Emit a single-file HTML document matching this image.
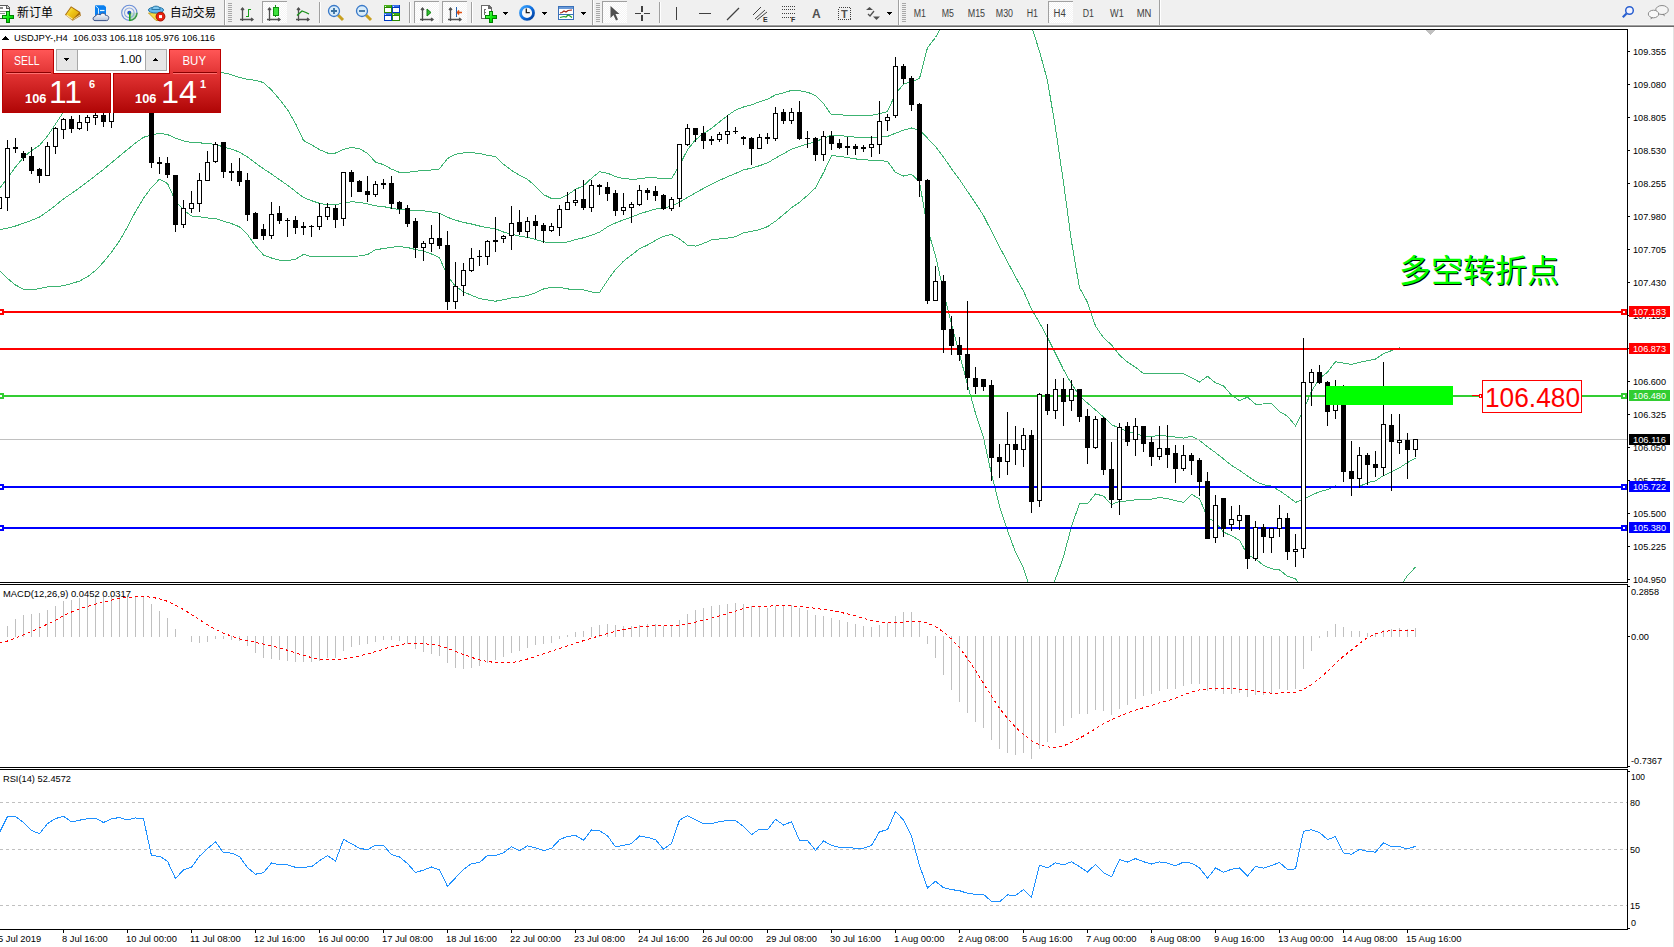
<!DOCTYPE html>
<html><head><meta charset="utf-8"><title>USDJPY-,H4</title>
<style>html,body{margin:0;padding:0;background:#fff;overflow:hidden;width:1674px;height:947px}svg{display:block}</style>
</head><body>
<svg width="1674" height="947" viewBox="0 0 1674 947" shape-rendering="crispEdges" font-family="'Liberation Sans', Arial, sans-serif">
<rect x="0" y="27" width="1674" height="920" fill="#ffffff"/>
<rect x="1673" y="27" width="1" height="920" fill="#e3e3e3"/>
<defs><clipPath id="cm"><rect x="0" y="30" width="1627" height="552"/></clipPath><clipPath id="cd"><rect x="0" y="585" width="1627" height="182"/></clipPath><clipPath id="cr"><rect x="0" y="770" width="1627" height="159"/></clipPath></defs>
<g clip-path="url(#cm)">
<polyline points="-0.5,188.6 7.5,177.8 15.5,167.0 23.5,157.4 31.5,150.6 39.5,145.4 47.5,136.1 55.5,124.1 63.5,112.1 71.5,103.4 79.5,94.8 87.5,87.0 95.5,80.6 103.5,76.9 111.5,73.6 119.5,71.4 127.5,72.3 135.5,74.3 143.5,76.3 151.5,82.5 159.5,87.3 167.5,85.5 175.5,75.7 183.5,71.5 191.5,69.0 199.5,68.8 207.5,69.1 215.5,70.2 223.5,72.8 231.5,74.7 239.5,77.5 247.5,79.4 255.5,80.3 263.5,82.6 271.5,90.0 279.5,99.3 287.5,109.7 295.5,123.5 303.5,140.5 311.5,144.7 319.5,149.7 327.5,153.0 335.5,153.0 343.5,149.4 351.5,147.5 359.5,148.7 367.5,153.3 375.5,162.2 383.5,164.6 391.5,169.1 399.5,172.4 407.5,172.4 415.5,171.3 423.5,170.5 431.5,170.0 439.5,168.9 447.5,158.5 455.5,154.3 463.5,152.9 471.5,152.7 479.5,153.5 487.5,155.4 495.5,156.4 503.5,164.3 511.5,170.3 519.5,175.3 527.5,179.3 535.5,186.3 543.5,194.6 551.5,198.5 559.5,198.7 567.5,195.0 575.5,189.4 583.5,185.7 591.5,178.3 599.5,171.8 607.5,173.2 615.5,176.6 623.5,178.5 631.5,179.3 639.5,178.9 647.5,177.7 655.5,177.8 663.5,179.0 671.5,178.6 679.5,165.4 687.5,149.8 695.5,139.8 703.5,133.5 711.5,128.4 719.5,121.9 727.5,115.6 735.5,110.1 743.5,107.0 751.5,104.9 759.5,101.7 767.5,99.2 775.5,94.9 783.5,92.8 791.5,90.4 799.5,90.8 807.5,92.2 815.5,95.6 823.5,103.6 831.5,114.9 839.5,114.8 847.5,115.3 855.5,115.4 863.5,115.3 871.5,115.3 879.5,113.6 887.5,111.5 895.5,93.8 903.5,84.3 911.5,81.6 919.5,78.5 927.5,47.7 935.5,37.5 943.5,22.8 951.5,13.2 959.5,5.0 967.5,-1.9 975.5,-7.1 983.5,-6.7 991.5,-11.8 999.5,-12.4 1007.5,-7.0 1015.5,1.5 1023.5,14.2 1031.5,26.2 1039.5,51.3 1047.5,80.6 1055.5,128.2 1063.5,182.4 1071.5,241.6 1079.5,287.8 1087.5,302.3 1095.5,326.0 1103.5,337.8 1111.5,344.8 1119.5,355.2 1127.5,362.1 1135.5,367.2 1143.5,373.5 1151.5,373.5 1159.5,373.7 1167.5,373.8 1175.5,373.4 1183.5,373.9 1191.5,377.7 1199.5,382.1 1207.5,376.2 1215.5,382.8 1223.5,385.8 1231.5,395.1 1239.5,400.6 1247.5,397.2 1255.5,404.1 1263.5,404.0 1271.5,403.5 1279.5,411.5 1287.5,416.1 1295.5,425.8 1303.5,409.9 1311.5,391.3 1319.5,378.5 1327.5,372.1 1335.5,361.7 1343.5,363.1 1351.5,364.5 1359.5,362.4 1367.5,360.7 1375.5,359.1 1383.5,353.6 1391.5,350.6 1399.5,347.9 1407.5,349.7 1415.5,349.0" fill="none" stroke="#3cb371" stroke-width="1"/>
<polyline points="-0.5,229.7 7.5,228.1 15.5,226.0 23.5,223.3 31.5,220.3 39.5,217.0 47.5,211.5 55.5,205.4 63.5,198.9 71.5,193.5 79.5,187.9 87.5,181.8 95.5,175.6 103.5,169.5 111.5,162.8 119.5,156.1 127.5,149.5 135.5,143.0 143.5,137.3 151.5,134.9 159.5,133.2 167.5,134.5 175.5,138.3 183.5,140.9 191.5,142.5 199.5,142.8 207.5,143.6 215.5,144.4 223.5,147.0 231.5,149.2 239.5,152.1 247.5,157.0 255.5,163.1 263.5,168.8 271.5,174.0 279.5,179.7 287.5,185.2 295.5,191.4 303.5,197.4 311.5,200.7 319.5,203.3 327.5,204.9 335.5,204.7 343.5,202.9 351.5,201.8 359.5,202.3 367.5,203.9 375.5,205.9 383.5,206.6 391.5,208.2 399.5,209.5 407.5,209.9 415.5,210.4 423.5,210.8 431.5,212.0 439.5,213.2 447.5,217.3 455.5,220.2 463.5,222.4 471.5,224.0 479.5,226.0 487.5,227.7 495.5,228.8 503.5,232.0 511.5,234.1 519.5,236.1 527.5,237.4 535.5,239.5 543.5,241.8 551.5,242.9 559.5,243.0 567.5,241.9 575.5,239.6 583.5,237.8 591.5,235.2 599.5,232.2 607.5,226.8 615.5,223.0 623.5,219.8 631.5,217.2 639.5,213.8 647.5,211.4 655.5,209.1 663.5,207.7 671.5,206.5 679.5,202.2 687.5,197.5 695.5,192.9 703.5,188.4 711.5,184.2 719.5,180.4 727.5,176.8 735.5,173.4 743.5,169.9 751.5,168.1 759.5,165.7 767.5,162.9 775.5,158.1 783.5,153.7 791.5,149.1 799.5,146.5 807.5,143.8 815.5,141.8 823.5,138.2 831.5,135.3 839.5,135.5 847.5,136.4 855.5,137.2 863.5,137.6 871.5,137.8 879.5,137.1 887.5,136.4 895.5,133.2 903.5,130.2 911.5,128.0 919.5,130.1 927.5,138.2 935.5,146.6 943.5,157.1 951.5,168.7 959.5,179.5 967.5,191.4 975.5,203.1 983.5,215.6 991.5,231.2 999.5,246.9 1007.5,261.8 1015.5,276.9 1023.5,291.2 1031.5,309.1 1039.5,322.7 1047.5,337.4 1055.5,353.5 1063.5,369.6 1071.5,383.9 1079.5,395.7 1087.5,403.1 1095.5,409.9 1103.5,416.9 1111.5,424.6 1119.5,428.3 1127.5,431.5 1135.5,433.5 1143.5,436.4 1151.5,436.3 1159.5,435.6 1167.5,436.1 1175.5,437.1 1183.5,438.1 1191.5,436.1 1199.5,440.4 1207.5,446.8 1215.5,452.6 1223.5,458.9 1231.5,465.4 1239.5,470.4 1247.5,475.9 1255.5,481.4 1263.5,484.7 1271.5,486.1 1279.5,490.7 1287.5,496.2 1295.5,502.4 1303.5,499.3 1311.5,495.1 1319.5,491.8 1327.5,489.6 1335.5,486.0 1343.5,486.8 1351.5,487.7 1359.5,486.4 1367.5,482.7 1375.5,480.8 1383.5,475.6 1391.5,471.7 1399.5,467.9 1407.5,462.5 1415.5,458.1" fill="none" stroke="#3cb371" stroke-width="1"/>
<polyline points="-0.5,270.8 7.5,278.4 15.5,285.0 23.5,289.3 31.5,290.0 39.5,288.6 47.5,286.9 55.5,286.7 63.5,285.7 71.5,283.6 79.5,281.1 87.5,276.7 95.5,270.6 103.5,262.1 111.5,252.1 119.5,240.9 127.5,226.8 135.5,211.6 143.5,198.3 151.5,187.3 159.5,179.2 167.5,183.5 175.5,200.9 183.5,210.2 191.5,216.0 199.5,216.8 207.5,218.0 215.5,218.5 223.5,221.1 231.5,223.6 239.5,226.8 247.5,234.5 255.5,245.9 263.5,255.0 271.5,258.0 279.5,260.1 287.5,260.7 295.5,259.2 303.5,254.4 311.5,256.6 319.5,256.9 327.5,256.9 335.5,256.4 343.5,256.4 351.5,256.1 359.5,256.0 367.5,254.6 375.5,249.7 383.5,248.6 391.5,247.2 399.5,246.6 407.5,247.5 415.5,249.5 423.5,251.1 431.5,254.0 439.5,257.6 447.5,276.1 455.5,286.2 463.5,291.9 471.5,295.3 479.5,298.5 487.5,300.0 495.5,301.2 503.5,299.7 511.5,297.9 519.5,296.9 527.5,295.6 535.5,292.7 543.5,289.0 551.5,287.4 559.5,287.3 567.5,288.9 575.5,289.8 583.5,289.9 591.5,292.0 599.5,292.6 607.5,280.4 615.5,269.4 623.5,261.2 631.5,255.0 639.5,248.8 647.5,245.1 655.5,240.4 663.5,236.4 671.5,234.4 679.5,238.9 687.5,245.2 695.5,246.1 703.5,243.4 711.5,239.9 719.5,238.9 727.5,238.1 735.5,236.7 743.5,232.9 751.5,231.3 759.5,229.6 767.5,226.6 775.5,221.2 783.5,214.6 791.5,207.8 799.5,202.2 807.5,195.4 815.5,187.9 823.5,172.7 831.5,155.8 839.5,156.2 847.5,157.6 855.5,158.9 863.5,159.8 871.5,160.2 879.5,160.6 887.5,161.3 895.5,172.5 903.5,176.0 911.5,174.3 919.5,181.7 927.5,228.7 935.5,255.7 943.5,291.3 951.5,324.2 959.5,354.0 967.5,384.8 975.5,413.2 983.5,437.8 991.5,474.3 999.5,506.3 1007.5,530.6 1015.5,552.2 1023.5,568.2 1031.5,591.9 1039.5,594.1 1047.5,594.1 1055.5,578.8 1063.5,556.9 1071.5,526.2 1079.5,503.6 1087.5,503.8 1095.5,493.9 1103.5,496.1 1111.5,504.5 1119.5,501.4 1127.5,500.9 1135.5,499.8 1143.5,499.2 1151.5,499.1 1159.5,497.6 1167.5,498.5 1175.5,500.8 1183.5,502.3 1191.5,494.4 1199.5,498.7 1207.5,517.4 1215.5,522.4 1223.5,532.1 1231.5,535.8 1239.5,540.2 1247.5,554.7 1255.5,558.6 1263.5,565.4 1271.5,568.8 1279.5,569.9 1287.5,576.3 1295.5,578.9 1303.5,588.7 1311.5,598.9 1319.5,605.1 1327.5,607.2 1335.5,610.3 1343.5,610.5 1351.5,610.9 1359.5,610.4 1367.5,604.7 1375.5,602.5 1383.5,597.6 1391.5,592.8 1399.5,588.0 1407.5,575.3 1415.5,567.2" fill="none" stroke="#3cb371" stroke-width="1"/>
</g>
<rect x="0" y="439" width="1627" height="1" fill="#c0c0c0"/>
<rect x="0" y="311" width="1627" height="2" fill="#ff0000"/>
<rect x="-2" y="309" width="6" height="6" fill="#ff0000"/>
<rect x="0" y="311" width="2" height="2" fill="#fff"/>
<rect x="1621" y="309" width="6" height="6" fill="#ff0000"/>
<rect x="1623" y="311" width="2" height="2" fill="#fff"/>
<rect x="0" y="348" width="1627" height="2" fill="#ff0000"/>
<rect x="0" y="395" width="1627" height="2" fill="#32cd32"/>
<rect x="-2" y="393" width="6" height="6" fill="#32cd32"/>
<rect x="0" y="395" width="2" height="2" fill="#fff"/>
<rect x="1621" y="393" width="6" height="6" fill="#32cd32"/>
<rect x="1623" y="395" width="2" height="2" fill="#fff"/>
<rect x="0" y="486" width="1627" height="2" fill="#0000ff"/>
<rect x="-2" y="484" width="6" height="6" fill="#0000ff"/>
<rect x="0" y="486" width="2" height="2" fill="#fff"/>
<rect x="1621" y="484" width="6" height="6" fill="#0000ff"/>
<rect x="1623" y="486" width="2" height="2" fill="#fff"/>
<rect x="0" y="527" width="1627" height="2" fill="#0000ff"/>
<rect x="-2" y="525" width="6" height="6" fill="#0000ff"/>
<rect x="0" y="527" width="2" height="2" fill="#fff"/>
<rect x="1621" y="525" width="6" height="6" fill="#0000ff"/>
<rect x="1623" y="527" width="2" height="2" fill="#fff"/>
<rect x="-1" y="190" width="1" height="26" fill="#000"/>
<rect x="-3" y="197" width="5" height="12" fill="#000"/>
<rect x="-2" y="198" width="3" height="10" fill="#fff"/>
<rect x="7" y="140" width="1" height="71" fill="#000"/>
<rect x="5" y="148" width="5" height="50" fill="#000"/>
<rect x="6" y="149" width="3" height="48" fill="#fff"/>
<rect x="15" y="138" width="1" height="15" fill="#000"/>
<rect x="13" y="147" width="5" height="2" fill="#000"/>
<rect x="23" y="151" width="1" height="10" fill="#000"/>
<rect x="21" y="153" width="5" height="5" fill="#000"/>
<rect x="31" y="147" width="1" height="27" fill="#000"/>
<rect x="29" y="156" width="5" height="15" fill="#000"/>
<rect x="39" y="168" width="1" height="15" fill="#000"/>
<rect x="37" y="169" width="5" height="7" fill="#000"/>
<rect x="47" y="142" width="1" height="34" fill="#000"/>
<rect x="45" y="146" width="5" height="30" fill="#000"/>
<rect x="46" y="147" width="3" height="28" fill="#fff"/>
<rect x="55" y="127" width="1" height="27" fill="#000"/>
<rect x="53" y="128" width="5" height="19" fill="#000"/>
<rect x="54" y="129" width="3" height="17" fill="#fff"/>
<rect x="63" y="118" width="1" height="21" fill="#000"/>
<rect x="61" y="119" width="5" height="11" fill="#000"/>
<rect x="62" y="120" width="3" height="9" fill="#fff"/>
<rect x="71" y="116" width="1" height="17" fill="#000"/>
<rect x="69" y="119" width="5" height="10" fill="#000"/>
<rect x="79" y="115" width="1" height="15" fill="#000"/>
<rect x="77" y="122" width="5" height="7" fill="#000"/>
<rect x="78" y="123" width="3" height="5" fill="#fff"/>
<rect x="87" y="115" width="1" height="16" fill="#000"/>
<rect x="85" y="117" width="5" height="6" fill="#000"/>
<rect x="86" y="118" width="3" height="4" fill="#fff"/>
<rect x="95" y="110" width="1" height="15" fill="#000"/>
<rect x="93" y="115" width="5" height="3" fill="#000"/>
<rect x="94" y="116" width="3" height="1" fill="#fff"/>
<rect x="103" y="110" width="1" height="17" fill="#000"/>
<rect x="101" y="115" width="5" height="7" fill="#000"/>
<rect x="111" y="108" width="1" height="20" fill="#000"/>
<rect x="109" y="110" width="5" height="12" fill="#000"/>
<rect x="110" y="111" width="3" height="10" fill="#fff"/>
<rect x="151" y="102" width="1" height="66" fill="#000"/>
<rect x="149" y="104" width="5" height="59" fill="#000"/>
<rect x="159" y="157" width="1" height="17" fill="#000"/>
<rect x="157" y="162" width="5" height="2" fill="#000"/>
<rect x="167" y="157" width="1" height="21" fill="#000"/>
<rect x="165" y="163" width="5" height="12" fill="#000"/>
<rect x="175" y="175" width="1" height="57" fill="#000"/>
<rect x="173" y="175" width="5" height="50" fill="#000"/>
<rect x="183" y="200" width="1" height="28" fill="#000"/>
<rect x="181" y="208" width="5" height="17" fill="#000"/>
<rect x="182" y="209" width="3" height="15" fill="#fff"/>
<rect x="191" y="191" width="1" height="22" fill="#000"/>
<rect x="189" y="203" width="5" height="6" fill="#000"/>
<rect x="190" y="204" width="3" height="4" fill="#fff"/>
<rect x="199" y="173" width="1" height="39" fill="#000"/>
<rect x="197" y="180" width="5" height="24" fill="#000"/>
<rect x="198" y="181" width="3" height="22" fill="#fff"/>
<rect x="207" y="151" width="1" height="30" fill="#000"/>
<rect x="205" y="162" width="5" height="19" fill="#000"/>
<rect x="206" y="163" width="3" height="17" fill="#fff"/>
<rect x="215" y="142" width="1" height="21" fill="#000"/>
<rect x="213" y="144" width="5" height="18" fill="#000"/>
<rect x="214" y="145" width="3" height="16" fill="#fff"/>
<rect x="223" y="142" width="1" height="36" fill="#000"/>
<rect x="221" y="142" width="5" height="30" fill="#000"/>
<rect x="231" y="163" width="1" height="18" fill="#000"/>
<rect x="229" y="171" width="5" height="2" fill="#000"/>
<rect x="239" y="158" width="1" height="28" fill="#000"/>
<rect x="237" y="171" width="5" height="11" fill="#000"/>
<rect x="247" y="173" width="1" height="48" fill="#000"/>
<rect x="245" y="180" width="5" height="35" fill="#000"/>
<rect x="255" y="212" width="1" height="27" fill="#000"/>
<rect x="253" y="213" width="5" height="26" fill="#000"/>
<rect x="263" y="224" width="1" height="16" fill="#000"/>
<rect x="261" y="229" width="5" height="7" fill="#000"/>
<rect x="271" y="202" width="1" height="37" fill="#000"/>
<rect x="269" y="214" width="5" height="22" fill="#000"/>
<rect x="270" y="215" width="3" height="20" fill="#fff"/>
<rect x="279" y="206" width="1" height="18" fill="#000"/>
<rect x="277" y="213" width="5" height="8" fill="#000"/>
<rect x="287" y="218" width="1" height="19" fill="#000"/>
<rect x="285" y="220" width="5" height="1" fill="#000"/>
<rect x="295" y="216" width="1" height="18" fill="#000"/>
<rect x="293" y="220" width="5" height="8" fill="#000"/>
<rect x="303" y="222" width="1" height="13" fill="#000"/>
<rect x="301" y="226" width="5" height="2" fill="#000"/>
<rect x="311" y="225" width="1" height="12" fill="#000"/>
<rect x="309" y="226" width="5" height="1" fill="#000"/>
<rect x="319" y="203" width="1" height="27" fill="#000"/>
<rect x="317" y="216" width="5" height="11" fill="#000"/>
<rect x="318" y="217" width="3" height="9" fill="#fff"/>
<rect x="327" y="203" width="1" height="17" fill="#000"/>
<rect x="325" y="207" width="5" height="10" fill="#000"/>
<rect x="326" y="208" width="3" height="8" fill="#fff"/>
<rect x="335" y="205" width="1" height="23" fill="#000"/>
<rect x="333" y="208" width="5" height="12" fill="#000"/>
<rect x="343" y="172" width="1" height="54" fill="#000"/>
<rect x="341" y="172" width="5" height="47" fill="#000"/>
<rect x="342" y="173" width="3" height="45" fill="#fff"/>
<rect x="351" y="170" width="1" height="27" fill="#000"/>
<rect x="349" y="172" width="5" height="10" fill="#000"/>
<rect x="359" y="180" width="1" height="12" fill="#000"/>
<rect x="357" y="181" width="5" height="11" fill="#000"/>
<rect x="367" y="176" width="1" height="26" fill="#000"/>
<rect x="365" y="191" width="5" height="4" fill="#000"/>
<rect x="375" y="181" width="1" height="16" fill="#000"/>
<rect x="373" y="184" width="5" height="11" fill="#000"/>
<rect x="374" y="185" width="3" height="9" fill="#fff"/>
<rect x="383" y="179" width="1" height="10" fill="#000"/>
<rect x="381" y="183" width="5" height="2" fill="#000"/>
<rect x="391" y="176" width="1" height="33" fill="#000"/>
<rect x="389" y="183" width="5" height="21" fill="#000"/>
<rect x="399" y="201" width="1" height="13" fill="#000"/>
<rect x="397" y="202" width="5" height="7" fill="#000"/>
<rect x="407" y="205" width="1" height="22" fill="#000"/>
<rect x="405" y="208" width="5" height="16" fill="#000"/>
<rect x="415" y="218" width="1" height="40" fill="#000"/>
<rect x="413" y="221" width="5" height="27" fill="#000"/>
<rect x="423" y="241" width="1" height="20" fill="#000"/>
<rect x="421" y="243" width="5" height="5" fill="#000"/>
<rect x="422" y="244" width="3" height="3" fill="#fff"/>
<rect x="431" y="225" width="1" height="27" fill="#000"/>
<rect x="429" y="238" width="5" height="6" fill="#000"/>
<rect x="430" y="239" width="3" height="4" fill="#fff"/>
<rect x="439" y="213" width="1" height="36" fill="#000"/>
<rect x="437" y="238" width="5" height="8" fill="#000"/>
<rect x="447" y="231" width="1" height="79" fill="#000"/>
<rect x="445" y="245" width="5" height="57" fill="#000"/>
<rect x="455" y="262" width="1" height="47" fill="#000"/>
<rect x="453" y="286" width="5" height="16" fill="#000"/>
<rect x="454" y="287" width="3" height="14" fill="#fff"/>
<rect x="463" y="263" width="1" height="33" fill="#000"/>
<rect x="461" y="270" width="5" height="16" fill="#000"/>
<rect x="462" y="271" width="3" height="14" fill="#fff"/>
<rect x="471" y="248" width="1" height="24" fill="#000"/>
<rect x="469" y="258" width="5" height="13" fill="#000"/>
<rect x="470" y="259" width="3" height="11" fill="#fff"/>
<rect x="479" y="250" width="1" height="16" fill="#000"/>
<rect x="477" y="256" width="5" height="1" fill="#000"/>
<rect x="487" y="240" width="1" height="25" fill="#000"/>
<rect x="485" y="241" width="5" height="16" fill="#000"/>
<rect x="486" y="242" width="3" height="14" fill="#fff"/>
<rect x="495" y="217" width="1" height="35" fill="#000"/>
<rect x="493" y="240" width="5" height="2" fill="#000"/>
<rect x="503" y="235" width="1" height="8" fill="#000"/>
<rect x="501" y="236" width="5" height="3" fill="#000"/>
<rect x="502" y="237" width="3" height="1" fill="#fff"/>
<rect x="511" y="206" width="1" height="44" fill="#000"/>
<rect x="509" y="223" width="5" height="13" fill="#000"/>
<rect x="510" y="224" width="3" height="11" fill="#fff"/>
<rect x="519" y="210" width="1" height="25" fill="#000"/>
<rect x="517" y="222" width="5" height="10" fill="#000"/>
<rect x="527" y="217" width="1" height="21" fill="#000"/>
<rect x="525" y="221" width="5" height="11" fill="#000"/>
<rect x="526" y="222" width="3" height="9" fill="#fff"/>
<rect x="535" y="215" width="1" height="24" fill="#000"/>
<rect x="533" y="221" width="5" height="5" fill="#000"/>
<rect x="543" y="223" width="1" height="20" fill="#000"/>
<rect x="541" y="225" width="5" height="6" fill="#000"/>
<rect x="551" y="223" width="1" height="9" fill="#000"/>
<rect x="549" y="226" width="5" height="5" fill="#000"/>
<rect x="550" y="227" width="3" height="3" fill="#fff"/>
<rect x="559" y="205" width="1" height="31" fill="#000"/>
<rect x="557" y="209" width="5" height="19" fill="#000"/>
<rect x="558" y="210" width="3" height="17" fill="#fff"/>
<rect x="567" y="192" width="1" height="18" fill="#000"/>
<rect x="565" y="202" width="5" height="8" fill="#000"/>
<rect x="566" y="203" width="3" height="6" fill="#fff"/>
<rect x="575" y="189" width="1" height="17" fill="#000"/>
<rect x="573" y="200" width="5" height="3" fill="#000"/>
<rect x="574" y="201" width="3" height="1" fill="#fff"/>
<rect x="583" y="180" width="1" height="30" fill="#000"/>
<rect x="581" y="199" width="5" height="9" fill="#000"/>
<rect x="591" y="180" width="1" height="32" fill="#000"/>
<rect x="589" y="185" width="5" height="23" fill="#000"/>
<rect x="590" y="186" width="3" height="21" fill="#fff"/>
<rect x="599" y="184" width="1" height="11" fill="#000"/>
<rect x="597" y="185" width="5" height="2" fill="#000"/>
<rect x="607" y="182" width="1" height="19" fill="#000"/>
<rect x="605" y="187" width="5" height="7" fill="#000"/>
<rect x="615" y="190" width="1" height="26" fill="#000"/>
<rect x="613" y="193" width="5" height="18" fill="#000"/>
<rect x="623" y="193" width="1" height="22" fill="#000"/>
<rect x="621" y="207" width="5" height="4" fill="#000"/>
<rect x="622" y="208" width="3" height="2" fill="#fff"/>
<rect x="631" y="202" width="1" height="21" fill="#000"/>
<rect x="629" y="204" width="5" height="4" fill="#000"/>
<rect x="630" y="205" width="3" height="2" fill="#fff"/>
<rect x="639" y="185" width="1" height="21" fill="#000"/>
<rect x="637" y="190" width="5" height="15" fill="#000"/>
<rect x="638" y="191" width="3" height="13" fill="#fff"/>
<rect x="647" y="188" width="1" height="12" fill="#000"/>
<rect x="645" y="190" width="5" height="3" fill="#000"/>
<rect x="655" y="186" width="1" height="15" fill="#000"/>
<rect x="653" y="191" width="5" height="5" fill="#000"/>
<rect x="663" y="194" width="1" height="16" fill="#000"/>
<rect x="661" y="195" width="5" height="14" fill="#000"/>
<rect x="671" y="197" width="1" height="14" fill="#000"/>
<rect x="669" y="199" width="5" height="10" fill="#000"/>
<rect x="670" y="200" width="3" height="8" fill="#fff"/>
<rect x="679" y="144" width="1" height="63" fill="#000"/>
<rect x="677" y="144" width="5" height="55" fill="#000"/>
<rect x="678" y="145" width="3" height="53" fill="#fff"/>
<rect x="687" y="124" width="1" height="22" fill="#000"/>
<rect x="685" y="128" width="5" height="17" fill="#000"/>
<rect x="686" y="129" width="3" height="15" fill="#fff"/>
<rect x="695" y="128" width="1" height="14" fill="#000"/>
<rect x="693" y="128" width="5" height="7" fill="#000"/>
<rect x="703" y="126" width="1" height="23" fill="#000"/>
<rect x="701" y="133" width="5" height="8" fill="#000"/>
<rect x="711" y="136" width="1" height="9" fill="#000"/>
<rect x="709" y="139" width="5" height="2" fill="#000"/>
<rect x="719" y="132" width="1" height="10" fill="#000"/>
<rect x="717" y="134" width="5" height="6" fill="#000"/>
<rect x="718" y="135" width="3" height="4" fill="#fff"/>
<rect x="727" y="115" width="1" height="29" fill="#000"/>
<rect x="725" y="131" width="5" height="4" fill="#000"/>
<rect x="726" y="132" width="3" height="2" fill="#fff"/>
<rect x="735" y="127" width="1" height="7" fill="#000"/>
<rect x="733" y="131" width="5" height="1" fill="#000"/>
<rect x="743" y="136" width="1" height="9" fill="#000"/>
<rect x="741" y="137" width="5" height="2" fill="#000"/>
<rect x="751" y="137" width="1" height="28" fill="#000"/>
<rect x="749" y="138" width="5" height="11" fill="#000"/>
<rect x="759" y="134" width="1" height="15" fill="#000"/>
<rect x="757" y="137" width="5" height="12" fill="#000"/>
<rect x="758" y="138" width="3" height="10" fill="#fff"/>
<rect x="767" y="133" width="1" height="11" fill="#000"/>
<rect x="765" y="137" width="5" height="2" fill="#000"/>
<rect x="775" y="107" width="1" height="34" fill="#000"/>
<rect x="773" y="113" width="5" height="26" fill="#000"/>
<rect x="774" y="114" width="3" height="24" fill="#fff"/>
<rect x="783" y="109" width="1" height="15" fill="#000"/>
<rect x="781" y="112" width="5" height="9" fill="#000"/>
<rect x="791" y="108" width="1" height="16" fill="#000"/>
<rect x="789" y="112" width="5" height="9" fill="#000"/>
<rect x="790" y="113" width="3" height="7" fill="#fff"/>
<rect x="799" y="101" width="1" height="39" fill="#000"/>
<rect x="797" y="112" width="5" height="27" fill="#000"/>
<rect x="807" y="131" width="1" height="17" fill="#000"/>
<rect x="805" y="138" width="5" height="1" fill="#000"/>
<rect x="815" y="137" width="1" height="24" fill="#000"/>
<rect x="813" y="138" width="5" height="17" fill="#000"/>
<rect x="823" y="131" width="1" height="30" fill="#000"/>
<rect x="821" y="136" width="5" height="19" fill="#000"/>
<rect x="822" y="137" width="3" height="17" fill="#fff"/>
<rect x="831" y="131" width="1" height="19" fill="#000"/>
<rect x="829" y="136" width="5" height="8" fill="#000"/>
<rect x="839" y="139" width="1" height="10" fill="#000"/>
<rect x="837" y="143" width="5" height="5" fill="#000"/>
<rect x="847" y="137" width="1" height="18" fill="#000"/>
<rect x="845" y="146" width="5" height="2" fill="#000"/>
<rect x="855" y="144" width="1" height="11" fill="#000"/>
<rect x="853" y="146" width="5" height="3" fill="#000"/>
<rect x="863" y="145" width="1" height="7" fill="#000"/>
<rect x="861" y="147" width="5" height="2" fill="#000"/>
<rect x="871" y="136" width="1" height="21" fill="#000"/>
<rect x="869" y="144" width="5" height="4" fill="#000"/>
<rect x="870" y="145" width="3" height="2" fill="#fff"/>
<rect x="879" y="101" width="1" height="53" fill="#000"/>
<rect x="877" y="121" width="5" height="24" fill="#000"/>
<rect x="878" y="122" width="3" height="22" fill="#fff"/>
<rect x="887" y="114" width="1" height="17" fill="#000"/>
<rect x="885" y="117" width="5" height="4" fill="#000"/>
<rect x="886" y="118" width="3" height="2" fill="#fff"/>
<rect x="895" y="57" width="1" height="61" fill="#000"/>
<rect x="893" y="66" width="5" height="50" fill="#000"/>
<rect x="894" y="67" width="3" height="48" fill="#fff"/>
<rect x="903" y="64" width="1" height="20" fill="#000"/>
<rect x="901" y="66" width="5" height="13" fill="#000"/>
<rect x="911" y="76" width="1" height="35" fill="#000"/>
<rect x="909" y="78" width="5" height="27" fill="#000"/>
<rect x="919" y="103" width="1" height="94" fill="#000"/>
<rect x="917" y="104" width="5" height="77" fill="#000"/>
<rect x="927" y="179" width="1" height="125" fill="#000"/>
<rect x="925" y="180" width="5" height="121" fill="#000"/>
<rect x="935" y="266" width="1" height="35" fill="#000"/>
<rect x="933" y="281" width="5" height="20" fill="#000"/>
<rect x="934" y="282" width="3" height="18" fill="#fff"/>
<rect x="943" y="275" width="1" height="78" fill="#000"/>
<rect x="941" y="281" width="5" height="49" fill="#000"/>
<rect x="951" y="316" width="1" height="39" fill="#000"/>
<rect x="949" y="329" width="5" height="17" fill="#000"/>
<rect x="959" y="337" width="1" height="24" fill="#000"/>
<rect x="957" y="345" width="5" height="10" fill="#000"/>
<rect x="967" y="301" width="1" height="89" fill="#000"/>
<rect x="965" y="354" width="5" height="24" fill="#000"/>
<rect x="975" y="367" width="1" height="27" fill="#000"/>
<rect x="973" y="378" width="5" height="9" fill="#000"/>
<rect x="983" y="379" width="1" height="12" fill="#000"/>
<rect x="981" y="379" width="5" height="8" fill="#000"/>
<rect x="991" y="380" width="1" height="101" fill="#000"/>
<rect x="989" y="385" width="5" height="73" fill="#000"/>
<rect x="999" y="444" width="1" height="34" fill="#000"/>
<rect x="997" y="457" width="5" height="5" fill="#000"/>
<rect x="1007" y="412" width="1" height="63" fill="#000"/>
<rect x="1005" y="444" width="5" height="18" fill="#000"/>
<rect x="1006" y="445" width="3" height="16" fill="#fff"/>
<rect x="1015" y="426" width="1" height="39" fill="#000"/>
<rect x="1013" y="444" width="5" height="6" fill="#000"/>
<rect x="1023" y="428" width="1" height="39" fill="#000"/>
<rect x="1021" y="435" width="5" height="15" fill="#000"/>
<rect x="1022" y="436" width="3" height="13" fill="#fff"/>
<rect x="1031" y="430" width="1" height="83" fill="#000"/>
<rect x="1029" y="435" width="5" height="67" fill="#000"/>
<rect x="1039" y="393" width="1" height="114" fill="#000"/>
<rect x="1037" y="394" width="5" height="107" fill="#000"/>
<rect x="1038" y="395" width="3" height="105" fill="#fff"/>
<rect x="1047" y="324" width="1" height="91" fill="#000"/>
<rect x="1045" y="394" width="5" height="17" fill="#000"/>
<rect x="1055" y="379" width="1" height="40" fill="#000"/>
<rect x="1053" y="389" width="5" height="22" fill="#000"/>
<rect x="1054" y="390" width="3" height="20" fill="#fff"/>
<rect x="1063" y="378" width="1" height="48" fill="#000"/>
<rect x="1061" y="389" width="5" height="13" fill="#000"/>
<rect x="1071" y="380" width="1" height="31" fill="#000"/>
<rect x="1069" y="389" width="5" height="12" fill="#000"/>
<rect x="1070" y="390" width="3" height="10" fill="#fff"/>
<rect x="1079" y="389" width="1" height="33" fill="#000"/>
<rect x="1077" y="389" width="5" height="28" fill="#000"/>
<rect x="1087" y="409" width="1" height="55" fill="#000"/>
<rect x="1085" y="416" width="5" height="32" fill="#000"/>
<rect x="1095" y="416" width="1" height="33" fill="#000"/>
<rect x="1093" y="419" width="5" height="29" fill="#000"/>
<rect x="1094" y="420" width="3" height="27" fill="#fff"/>
<rect x="1103" y="417" width="1" height="58" fill="#000"/>
<rect x="1101" y="418" width="5" height="52" fill="#000"/>
<rect x="1111" y="442" width="1" height="66" fill="#000"/>
<rect x="1109" y="469" width="5" height="31" fill="#000"/>
<rect x="1119" y="423" width="1" height="92" fill="#000"/>
<rect x="1117" y="427" width="5" height="73" fill="#000"/>
<rect x="1118" y="428" width="3" height="71" fill="#fff"/>
<rect x="1127" y="422" width="1" height="24" fill="#000"/>
<rect x="1125" y="426" width="5" height="16" fill="#000"/>
<rect x="1135" y="418" width="1" height="38" fill="#000"/>
<rect x="1133" y="426" width="5" height="14" fill="#000"/>
<rect x="1134" y="427" width="3" height="12" fill="#fff"/>
<rect x="1143" y="426" width="1" height="26" fill="#000"/>
<rect x="1141" y="426" width="5" height="18" fill="#000"/>
<rect x="1151" y="437" width="1" height="29" fill="#000"/>
<rect x="1149" y="442" width="5" height="15" fill="#000"/>
<rect x="1159" y="426" width="1" height="34" fill="#000"/>
<rect x="1157" y="448" width="5" height="9" fill="#000"/>
<rect x="1158" y="449" width="3" height="7" fill="#fff"/>
<rect x="1167" y="425" width="1" height="43" fill="#000"/>
<rect x="1165" y="448" width="5" height="7" fill="#000"/>
<rect x="1175" y="445" width="1" height="38" fill="#000"/>
<rect x="1173" y="453" width="5" height="16" fill="#000"/>
<rect x="1183" y="445" width="1" height="26" fill="#000"/>
<rect x="1181" y="455" width="5" height="14" fill="#000"/>
<rect x="1182" y="456" width="3" height="12" fill="#fff"/>
<rect x="1191" y="453" width="1" height="22" fill="#000"/>
<rect x="1189" y="455" width="5" height="6" fill="#000"/>
<rect x="1199" y="458" width="1" height="38" fill="#000"/>
<rect x="1197" y="460" width="5" height="22" fill="#000"/>
<rect x="1207" y="472" width="1" height="67" fill="#000"/>
<rect x="1205" y="481" width="5" height="58" fill="#000"/>
<rect x="1215" y="495" width="1" height="48" fill="#000"/>
<rect x="1213" y="505" width="5" height="33" fill="#000"/>
<rect x="1214" y="506" width="3" height="31" fill="#fff"/>
<rect x="1223" y="498" width="1" height="39" fill="#000"/>
<rect x="1221" y="498" width="5" height="31" fill="#000"/>
<rect x="1231" y="506" width="1" height="25" fill="#000"/>
<rect x="1229" y="519" width="5" height="6" fill="#000"/>
<rect x="1230" y="520" width="3" height="4" fill="#fff"/>
<rect x="1239" y="505" width="1" height="25" fill="#000"/>
<rect x="1237" y="515" width="5" height="6" fill="#000"/>
<rect x="1238" y="516" width="3" height="4" fill="#fff"/>
<rect x="1247" y="515" width="1" height="54" fill="#000"/>
<rect x="1245" y="515" width="5" height="44" fill="#000"/>
<rect x="1255" y="521" width="1" height="40" fill="#000"/>
<rect x="1253" y="527" width="5" height="32" fill="#000"/>
<rect x="1254" y="528" width="3" height="30" fill="#fff"/>
<rect x="1263" y="524" width="1" height="29" fill="#000"/>
<rect x="1261" y="527" width="5" height="10" fill="#000"/>
<rect x="1271" y="528" width="1" height="25" fill="#000"/>
<rect x="1269" y="528" width="5" height="10" fill="#000"/>
<rect x="1270" y="529" width="3" height="8" fill="#fff"/>
<rect x="1279" y="505" width="1" height="32" fill="#000"/>
<rect x="1277" y="518" width="5" height="11" fill="#000"/>
<rect x="1278" y="519" width="3" height="9" fill="#fff"/>
<rect x="1287" y="513" width="1" height="47" fill="#000"/>
<rect x="1285" y="518" width="5" height="34" fill="#000"/>
<rect x="1295" y="534" width="1" height="33" fill="#000"/>
<rect x="1293" y="549" width="5" height="3" fill="#000"/>
<rect x="1294" y="550" width="3" height="1" fill="#fff"/>
<rect x="1303" y="338" width="1" height="220" fill="#000"/>
<rect x="1301" y="382" width="5" height="167" fill="#000"/>
<rect x="1302" y="383" width="3" height="165" fill="#fff"/>
<rect x="1311" y="369" width="1" height="37" fill="#000"/>
<rect x="1309" y="372" width="5" height="11" fill="#000"/>
<rect x="1310" y="373" width="3" height="9" fill="#fff"/>
<rect x="1319" y="365" width="1" height="19" fill="#000"/>
<rect x="1317" y="372" width="5" height="11" fill="#000"/>
<rect x="1327" y="381" width="1" height="45" fill="#000"/>
<rect x="1325" y="382" width="5" height="30" fill="#000"/>
<rect x="1335" y="380" width="1" height="39" fill="#000"/>
<rect x="1333" y="395" width="5" height="16" fill="#000"/>
<rect x="1334" y="396" width="3" height="14" fill="#fff"/>
<rect x="1343" y="385" width="1" height="97" fill="#000"/>
<rect x="1341" y="392" width="5" height="80" fill="#000"/>
<rect x="1351" y="441" width="1" height="55" fill="#000"/>
<rect x="1349" y="471" width="5" height="8" fill="#000"/>
<rect x="1359" y="447" width="1" height="41" fill="#000"/>
<rect x="1357" y="455" width="5" height="24" fill="#000"/>
<rect x="1358" y="456" width="3" height="22" fill="#fff"/>
<rect x="1367" y="453" width="1" height="32" fill="#000"/>
<rect x="1365" y="455" width="5" height="10" fill="#000"/>
<rect x="1375" y="451" width="1" height="26" fill="#000"/>
<rect x="1373" y="464" width="5" height="4" fill="#000"/>
<rect x="1383" y="362" width="1" height="114" fill="#000"/>
<rect x="1381" y="424" width="5" height="44" fill="#000"/>
<rect x="1382" y="425" width="3" height="42" fill="#fff"/>
<rect x="1391" y="414" width="1" height="77" fill="#000"/>
<rect x="1389" y="425" width="5" height="17" fill="#000"/>
<rect x="1399" y="414" width="1" height="40" fill="#000"/>
<rect x="1397" y="440" width="5" height="3" fill="#000"/>
<rect x="1398" y="441" width="3" height="1" fill="#fff"/>
<rect x="1407" y="433" width="1" height="46" fill="#000"/>
<rect x="1405" y="440" width="5" height="10" fill="#000"/>
<rect x="1415" y="439" width="1" height="18" fill="#000"/>
<rect x="1413" y="439" width="5" height="11" fill="#000"/>
<rect x="1414" y="440" width="3" height="9" fill="#fff"/>
<rect x="1326" y="386" width="127" height="19" fill="#00ff00"/>
<rect x="1472" y="395" width="8" height="1" fill="#ff0000"/>
<rect x="1479" y="394" width="3" height="4" fill="#ff0000"/>
<rect x="1480" y="395" width="1" height="2" fill="#fff"/>
<rect x="1482" y="380" width="100" height="33" fill="#ff0000"/>
<rect x="1483" y="381" width="98" height="31" fill="#ffffff"/>
<text x="1485" y="407" font-size="28" fill="#ff0000" textLength="95" lengthAdjust="spacingAndGlyphs">106.480</text>
<text x="1400" y="283" font-size="32" fill="#000000" textLength="160" lengthAdjust="spacingAndGlyphs" font-family="'Liberation Sans', 'Noto Sans CJK SC', 'WenQuanYi Zen Hei', sans-serif">多空转折点</text>
<text x="1399" y="282" font-size="32" fill="#00ff00" textLength="160" lengthAdjust="spacingAndGlyphs" font-family="'Liberation Sans', 'Noto Sans CJK SC', 'WenQuanYi Zen Hei', sans-serif">多空转折点</text>
<polygon points="1426,30 1435.5,30 1430.5,35.5" fill="#c0c0c0"/>
<rect x="-1" y="635" width="1" height="2" fill="#c0c0c0"/>
<rect x="7" y="626" width="1" height="11" fill="#c0c0c0"/>
<rect x="15" y="619" width="1" height="18" fill="#c0c0c0"/>
<rect x="23" y="615" width="1" height="22" fill="#c0c0c0"/>
<rect x="31" y="614" width="1" height="23" fill="#c0c0c0"/>
<rect x="39" y="613" width="1" height="24" fill="#c0c0c0"/>
<rect x="47" y="610" width="1" height="27" fill="#c0c0c0"/>
<rect x="55" y="606" width="1" height="31" fill="#c0c0c0"/>
<rect x="63" y="601" width="1" height="36" fill="#c0c0c0"/>
<rect x="71" y="600" width="1" height="37" fill="#c0c0c0"/>
<rect x="79" y="598" width="1" height="39" fill="#c0c0c0"/>
<rect x="87" y="596" width="1" height="41" fill="#c0c0c0"/>
<rect x="95" y="595" width="1" height="42" fill="#c0c0c0"/>
<rect x="103" y="596" width="1" height="41" fill="#c0c0c0"/>
<rect x="111" y="595" width="1" height="42" fill="#c0c0c0"/>
<rect x="119" y="595" width="1" height="42" fill="#c0c0c0"/>
<rect x="127" y="596" width="1" height="41" fill="#c0c0c0"/>
<rect x="135" y="596" width="1" height="41" fill="#c0c0c0"/>
<rect x="143" y="597" width="1" height="40" fill="#c0c0c0"/>
<rect x="151" y="604" width="1" height="33" fill="#c0c0c0"/>
<rect x="159" y="611" width="1" height="26" fill="#c0c0c0"/>
<rect x="167" y="618" width="1" height="19" fill="#c0c0c0"/>
<rect x="175" y="629" width="1" height="8" fill="#c0c0c0"/>
<rect x="191" y="636" width="1" height="6" fill="#c0c0c0"/>
<rect x="199" y="636" width="1" height="7" fill="#c0c0c0"/>
<rect x="207" y="636" width="1" height="6" fill="#c0c0c0"/>
<rect x="215" y="636" width="1" height="3" fill="#c0c0c0"/>
<rect x="223" y="636" width="1" height="3" fill="#c0c0c0"/>
<rect x="231" y="636" width="1" height="4" fill="#c0c0c0"/>
<rect x="239" y="636" width="1" height="5" fill="#c0c0c0"/>
<rect x="247" y="636" width="1" height="10" fill="#c0c0c0"/>
<rect x="255" y="636" width="1" height="17" fill="#c0c0c0"/>
<rect x="263" y="636" width="1" height="22" fill="#c0c0c0"/>
<rect x="271" y="636" width="1" height="23" fill="#c0c0c0"/>
<rect x="279" y="636" width="1" height="24" fill="#c0c0c0"/>
<rect x="287" y="636" width="1" height="25" fill="#c0c0c0"/>
<rect x="295" y="636" width="1" height="26" fill="#c0c0c0"/>
<rect x="303" y="636" width="1" height="26" fill="#c0c0c0"/>
<rect x="311" y="636" width="1" height="26" fill="#c0c0c0"/>
<rect x="319" y="636" width="1" height="25" fill="#c0c0c0"/>
<rect x="327" y="636" width="1" height="22" fill="#c0c0c0"/>
<rect x="335" y="636" width="1" height="22" fill="#c0c0c0"/>
<rect x="343" y="636" width="1" height="15" fill="#c0c0c0"/>
<rect x="351" y="636" width="1" height="11" fill="#c0c0c0"/>
<rect x="359" y="636" width="1" height="9" fill="#c0c0c0"/>
<rect x="367" y="636" width="1" height="8" fill="#c0c0c0"/>
<rect x="375" y="636" width="1" height="6" fill="#c0c0c0"/>
<rect x="383" y="636" width="1" height="4" fill="#c0c0c0"/>
<rect x="391" y="636" width="1" height="4" fill="#c0c0c0"/>
<rect x="399" y="636" width="1" height="5" fill="#c0c0c0"/>
<rect x="407" y="636" width="1" height="8" fill="#c0c0c0"/>
<rect x="415" y="636" width="1" height="13" fill="#c0c0c0"/>
<rect x="423" y="636" width="1" height="16" fill="#c0c0c0"/>
<rect x="431" y="636" width="1" height="18" fill="#c0c0c0"/>
<rect x="439" y="636" width="1" height="20" fill="#c0c0c0"/>
<rect x="447" y="636" width="1" height="27" fill="#c0c0c0"/>
<rect x="455" y="636" width="1" height="32" fill="#c0c0c0"/>
<rect x="463" y="636" width="1" height="33" fill="#c0c0c0"/>
<rect x="471" y="636" width="1" height="32" fill="#c0c0c0"/>
<rect x="479" y="636" width="1" height="30" fill="#c0c0c0"/>
<rect x="487" y="636" width="1" height="27" fill="#c0c0c0"/>
<rect x="495" y="636" width="1" height="24" fill="#c0c0c0"/>
<rect x="503" y="636" width="1" height="21" fill="#c0c0c0"/>
<rect x="511" y="636" width="1" height="17" fill="#c0c0c0"/>
<rect x="519" y="636" width="1" height="15" fill="#c0c0c0"/>
<rect x="527" y="636" width="1" height="12" fill="#c0c0c0"/>
<rect x="535" y="636" width="1" height="9" fill="#c0c0c0"/>
<rect x="543" y="636" width="1" height="8" fill="#c0c0c0"/>
<rect x="551" y="636" width="1" height="7" fill="#c0c0c0"/>
<rect x="559" y="636" width="1" height="3" fill="#c0c0c0"/>
<rect x="567" y="635" width="1" height="2" fill="#c0c0c0"/>
<rect x="575" y="632" width="1" height="5" fill="#c0c0c0"/>
<rect x="583" y="631" width="1" height="6" fill="#c0c0c0"/>
<rect x="591" y="627" width="1" height="10" fill="#c0c0c0"/>
<rect x="599" y="625" width="1" height="12" fill="#c0c0c0"/>
<rect x="607" y="624" width="1" height="13" fill="#c0c0c0"/>
<rect x="615" y="625" width="1" height="12" fill="#c0c0c0"/>
<rect x="623" y="626" width="1" height="11" fill="#c0c0c0"/>
<rect x="631" y="626" width="1" height="11" fill="#c0c0c0"/>
<rect x="639" y="625" width="1" height="12" fill="#c0c0c0"/>
<rect x="647" y="624" width="1" height="13" fill="#c0c0c0"/>
<rect x="655" y="624" width="1" height="13" fill="#c0c0c0"/>
<rect x="663" y="626" width="1" height="11" fill="#c0c0c0"/>
<rect x="671" y="626" width="1" height="11" fill="#c0c0c0"/>
<rect x="679" y="620" width="1" height="17" fill="#c0c0c0"/>
<rect x="687" y="614" width="1" height="23" fill="#c0c0c0"/>
<rect x="695" y="610" width="1" height="27" fill="#c0c0c0"/>
<rect x="703" y="608" width="1" height="29" fill="#c0c0c0"/>
<rect x="711" y="606" width="1" height="31" fill="#c0c0c0"/>
<rect x="719" y="605" width="1" height="32" fill="#c0c0c0"/>
<rect x="727" y="604" width="1" height="33" fill="#c0c0c0"/>
<rect x="735" y="603" width="1" height="34" fill="#c0c0c0"/>
<rect x="743" y="604" width="1" height="33" fill="#c0c0c0"/>
<rect x="751" y="606" width="1" height="31" fill="#c0c0c0"/>
<rect x="759" y="607" width="1" height="30" fill="#c0c0c0"/>
<rect x="767" y="608" width="1" height="29" fill="#c0c0c0"/>
<rect x="775" y="606" width="1" height="31" fill="#c0c0c0"/>
<rect x="783" y="606" width="1" height="31" fill="#c0c0c0"/>
<rect x="791" y="605" width="1" height="32" fill="#c0c0c0"/>
<rect x="799" y="608" width="1" height="29" fill="#c0c0c0"/>
<rect x="807" y="610" width="1" height="27" fill="#c0c0c0"/>
<rect x="815" y="615" width="1" height="22" fill="#c0c0c0"/>
<rect x="823" y="616" width="1" height="21" fill="#c0c0c0"/>
<rect x="831" y="618" width="1" height="19" fill="#c0c0c0"/>
<rect x="839" y="620" width="1" height="17" fill="#c0c0c0"/>
<rect x="847" y="622" width="1" height="15" fill="#c0c0c0"/>
<rect x="855" y="624" width="1" height="13" fill="#c0c0c0"/>
<rect x="863" y="626" width="1" height="11" fill="#c0c0c0"/>
<rect x="871" y="627" width="1" height="10" fill="#c0c0c0"/>
<rect x="879" y="625" width="1" height="12" fill="#c0c0c0"/>
<rect x="887" y="623" width="1" height="14" fill="#c0c0c0"/>
<rect x="895" y="616" width="1" height="21" fill="#c0c0c0"/>
<rect x="903" y="612" width="1" height="25" fill="#c0c0c0"/>
<rect x="911" y="612" width="1" height="25" fill="#c0c0c0"/>
<rect x="919" y="621" width="1" height="16" fill="#c0c0c0"/>
<rect x="927" y="636" width="1" height="8" fill="#c0c0c0"/>
<rect x="935" y="636" width="1" height="22" fill="#c0c0c0"/>
<rect x="943" y="636" width="1" height="39" fill="#c0c0c0"/>
<rect x="951" y="636" width="1" height="54" fill="#c0c0c0"/>
<rect x="959" y="636" width="1" height="66" fill="#c0c0c0"/>
<rect x="967" y="636" width="1" height="77" fill="#c0c0c0"/>
<rect x="975" y="636" width="1" height="86" fill="#c0c0c0"/>
<rect x="983" y="636" width="1" height="92" fill="#c0c0c0"/>
<rect x="991" y="636" width="1" height="104" fill="#c0c0c0"/>
<rect x="999" y="636" width="1" height="113" fill="#c0c0c0"/>
<rect x="1007" y="636" width="1" height="117" fill="#c0c0c0"/>
<rect x="1015" y="636" width="1" height="119" fill="#c0c0c0"/>
<rect x="1023" y="636" width="1" height="117" fill="#c0c0c0"/>
<rect x="1031" y="636" width="1" height="123" fill="#c0c0c0"/>
<rect x="1039" y="636" width="1" height="113" fill="#c0c0c0"/>
<rect x="1047" y="636" width="1" height="106" fill="#c0c0c0"/>
<rect x="1055" y="636" width="1" height="97" fill="#c0c0c0"/>
<rect x="1063" y="636" width="1" height="90" fill="#c0c0c0"/>
<rect x="1071" y="636" width="1" height="82" fill="#c0c0c0"/>
<rect x="1079" y="636" width="1" height="78" fill="#c0c0c0"/>
<rect x="1087" y="636" width="1" height="78" fill="#c0c0c0"/>
<rect x="1095" y="636" width="1" height="74" fill="#c0c0c0"/>
<rect x="1103" y="636" width="1" height="75" fill="#c0c0c0"/>
<rect x="1111" y="636" width="1" height="79" fill="#c0c0c0"/>
<rect x="1119" y="636" width="1" height="73" fill="#c0c0c0"/>
<rect x="1127" y="636" width="1" height="69" fill="#c0c0c0"/>
<rect x="1135" y="636" width="1" height="63" fill="#c0c0c0"/>
<rect x="1143" y="636" width="1" height="60" fill="#c0c0c0"/>
<rect x="1151" y="636" width="1" height="58" fill="#c0c0c0"/>
<rect x="1159" y="636" width="1" height="55" fill="#c0c0c0"/>
<rect x="1167" y="636" width="1" height="53" fill="#c0c0c0"/>
<rect x="1175" y="636" width="1" height="53" fill="#c0c0c0"/>
<rect x="1183" y="636" width="1" height="50" fill="#c0c0c0"/>
<rect x="1191" y="636" width="1" height="48" fill="#c0c0c0"/>
<rect x="1199" y="636" width="1" height="48" fill="#c0c0c0"/>
<rect x="1207" y="636" width="1" height="55" fill="#c0c0c0"/>
<rect x="1215" y="636" width="1" height="55" fill="#c0c0c0"/>
<rect x="1223" y="636" width="1" height="58" fill="#c0c0c0"/>
<rect x="1231" y="636" width="1" height="58" fill="#c0c0c0"/>
<rect x="1239" y="636" width="1" height="57" fill="#c0c0c0"/>
<rect x="1247" y="636" width="1" height="61" fill="#c0c0c0"/>
<rect x="1255" y="636" width="1" height="59" fill="#c0c0c0"/>
<rect x="1263" y="636" width="1" height="59" fill="#c0c0c0"/>
<rect x="1271" y="636" width="1" height="57" fill="#c0c0c0"/>
<rect x="1279" y="636" width="1" height="53" fill="#c0c0c0"/>
<rect x="1287" y="636" width="1" height="54" fill="#c0c0c0"/>
<rect x="1295" y="636" width="1" height="53" fill="#c0c0c0"/>
<rect x="1303" y="636" width="1" height="33" fill="#c0c0c0"/>
<rect x="1311" y="636" width="1" height="15" fill="#c0c0c0"/>
<rect x="1319" y="636" width="1" height="2" fill="#c0c0c0"/>
<rect x="1327" y="631" width="1" height="6" fill="#c0c0c0"/>
<rect x="1335" y="624" width="1" height="13" fill="#c0c0c0"/>
<rect x="1343" y="627" width="1" height="10" fill="#c0c0c0"/>
<rect x="1351" y="631" width="1" height="6" fill="#c0c0c0"/>
<rect x="1359" y="631" width="1" height="6" fill="#c0c0c0"/>
<rect x="1367" y="633" width="1" height="4" fill="#c0c0c0"/>
<rect x="1375" y="634" width="1" height="3" fill="#c0c0c0"/>
<rect x="1383" y="630" width="1" height="7" fill="#c0c0c0"/>
<rect x="1391" y="629" width="1" height="8" fill="#c0c0c0"/>
<rect x="1399" y="628" width="1" height="9" fill="#c0c0c0"/>
<rect x="1407" y="629" width="1" height="8" fill="#c0c0c0"/>
<rect x="1415" y="628" width="1" height="9" fill="#c0c0c0"/>
<polyline points="-0.5,642.9 7.5,641.0 15.5,638.2 23.5,634.9 31.5,631.5 39.5,627.9 47.5,624.1 55.5,620.1 63.5,615.9 71.5,612.0 79.5,608.9 87.5,606.3 95.5,604.2 103.5,602.2 111.5,600.2 119.5,598.5 127.5,597.4 135.5,596.8 143.5,596.5 151.5,597.2 159.5,598.8 167.5,601.3 175.5,605.0 183.5,609.5 191.5,614.6 199.5,619.8 207.5,624.8 215.5,629.3 223.5,633.1 231.5,636.2 239.5,638.8 247.5,640.6 255.5,642.4 263.5,644.2 271.5,645.9 279.5,647.9 287.5,650.3 295.5,652.8 303.5,655.3 311.5,657.6 319.5,659.2 327.5,659.8 335.5,659.8 343.5,659.0 351.5,657.6 359.5,655.9 367.5,653.9 375.5,651.6 383.5,649.1 391.5,646.8 399.5,644.9 407.5,643.4 415.5,643.1 423.5,643.6 431.5,644.5 439.5,645.8 447.5,648.3 455.5,651.4 463.5,654.5 471.5,657.4 479.5,659.9 487.5,661.5 495.5,662.5 503.5,662.9 511.5,662.6 519.5,661.2 527.5,659.0 535.5,656.4 543.5,653.8 551.5,651.2 559.5,648.5 567.5,645.8 575.5,643.1 583.5,640.7 591.5,638.2 599.5,635.8 607.5,633.5 615.5,631.4 623.5,629.6 631.5,628.2 639.5,627.1 647.5,626.2 655.5,625.5 663.5,625.3 671.5,625.5 679.5,625.2 687.5,623.9 695.5,622.2 703.5,620.1 711.5,618.1 719.5,615.9 727.5,613.6 735.5,611.1 743.5,608.6 751.5,607.0 759.5,606.3 767.5,606.1 775.5,605.9 783.5,605.9 791.5,605.9 799.5,606.4 807.5,607.2 815.5,608.4 823.5,609.5 831.5,610.7 839.5,612.1 847.5,613.9 855.5,615.9 863.5,618.3 871.5,620.4 879.5,622.0 887.5,622.9 895.5,622.9 903.5,622.2 911.5,621.3 919.5,621.1 927.5,623.2 935.5,626.7 943.5,632.0 951.5,639.1 959.5,647.7 967.5,658.4 975.5,670.5 983.5,683.3 991.5,696.4 999.5,708.1 1007.5,718.5 1015.5,727.3 1023.5,734.4 1031.5,740.7 1039.5,744.7 1047.5,746.9 1055.5,747.4 1063.5,745.9 1071.5,742.4 1079.5,738.2 1087.5,733.7 1095.5,728.8 1103.5,723.6 1111.5,719.8 1119.5,716.2 1127.5,713.1 1135.5,710.1 1143.5,707.7 1151.5,705.4 1159.5,702.9 1167.5,700.7 1175.5,698.2 1183.5,694.9 1191.5,692.2 1199.5,689.9 1207.5,688.9 1215.5,688.4 1223.5,688.4 1231.5,688.7 1239.5,689.1 1247.5,690.0 1255.5,691.1 1263.5,692.2 1271.5,693.2 1279.5,693.0 1287.5,692.8 1295.5,692.3 1303.5,689.5 1311.5,684.8 1319.5,678.3 1327.5,671.2 1335.5,663.4 1343.5,656.3 1351.5,650.0 1359.5,643.6 1367.5,637.5 1375.5,633.7 1383.5,631.5 1391.5,630.6 1399.5,630.3 1407.5,630.9 1415.5,631.0" fill="none" stroke="#ff0000" stroke-width="1" stroke-dasharray="3 3"/>
<line x1="0" y1="802.5" x2="1627" y2="802.5" stroke="#c0c0c0" stroke-width="1" stroke-dasharray="3 3"/>
<line x1="0" y1="849.5" x2="1627" y2="849.5" stroke="#c0c0c0" stroke-width="1" stroke-dasharray="3 3"/>
<line x1="0" y1="905.5" x2="1627" y2="905.5" stroke="#c0c0c0" stroke-width="1" stroke-dasharray="3 3"/>
<polyline points="-0.5,832.6 7.5,816.6 15.5,816.6 23.5,822.5 31.5,830.6 39.5,833.6 47.5,823.6 55.5,818.6 63.5,816.2 71.5,821.9 79.5,820.2 87.5,818.7 95.5,818.1 103.5,822.5 111.5,818.7 119.5,817.6 127.5,819.9 135.5,817.9 143.5,819.0 151.5,855.7 159.5,856.2 167.5,861.2 175.5,878.5 183.5,869.9 191.5,867.3 199.5,856.2 207.5,848.7 215.5,841.9 223.5,852.7 231.5,853.1 239.5,856.5 247.5,867.6 255.5,874.2 263.5,872.7 271.5,862.9 279.5,864.9 287.5,864.9 295.5,867.3 303.5,867.3 311.5,866.7 319.5,860.7 327.5,855.6 335.5,861.2 343.5,839.4 351.5,843.7 359.5,848.3 367.5,849.7 375.5,845.2 383.5,845.2 391.5,854.7 399.5,857.0 407.5,863.6 415.5,872.5 423.5,870.1 431.5,867.0 439.5,869.8 447.5,886.4 455.5,877.8 463.5,869.4 471.5,863.6 479.5,862.6 487.5,855.4 495.5,855.4 503.5,852.9 511.5,846.6 519.5,850.6 527.5,845.8 535.5,847.9 543.5,850.6 551.5,848.4 559.5,839.7 567.5,836.4 575.5,835.4 583.5,840.3 591.5,830.0 599.5,830.7 607.5,835.8 615.5,847.0 623.5,845.3 631.5,843.6 639.5,836.0 647.5,837.4 655.5,839.7 663.5,849.1 671.5,843.5 679.5,820.1 687.5,815.6 695.5,819.7 703.5,823.7 711.5,823.7 719.5,821.6 727.5,820.5 735.5,820.5 743.5,826.5 751.5,834.6 759.5,829.2 767.5,830.0 775.5,819.3 783.5,825.0 791.5,821.8 799.5,840.5 807.5,840.5 815.5,850.4 823.5,841.0 831.5,845.2 839.5,847.5 847.5,847.5 855.5,848.2 863.5,848.2 871.5,845.4 879.5,831.8 887.5,829.7 895.5,811.4 903.5,820.0 911.5,836.1 919.5,865.5 927.5,887.9 935.5,881.3 943.5,887.7 951.5,889.6 959.5,890.7 967.5,893.3 975.5,894.3 983.5,894.3 991.5,901.5 999.5,901.9 1007.5,894.9 1015.5,895.5 1023.5,889.6 1031.5,897.3 1039.5,865.3 1047.5,867.8 1055.5,862.8 1063.5,864.8 1071.5,861.8 1079.5,866.7 1087.5,872.0 1095.5,864.4 1103.5,872.6 1111.5,876.9 1119.5,859.7 1127.5,862.0 1135.5,858.6 1143.5,861.7 1151.5,864.0 1159.5,861.9 1167.5,863.1 1175.5,865.9 1183.5,862.1 1191.5,863.2 1199.5,867.8 1207.5,878.2 1215.5,868.0 1223.5,872.1 1231.5,869.3 1239.5,868.0 1247.5,876.0 1255.5,866.4 1263.5,868.2 1271.5,865.6 1279.5,862.4 1287.5,869.6 1295.5,868.9 1303.5,831.3 1311.5,829.8 1319.5,832.4 1327.5,839.5 1335.5,836.6 1343.5,853.0 1351.5,854.3 1359.5,849.5 1367.5,851.4 1375.5,852.1 1383.5,842.8 1391.5,846.8 1399.5,846.6 1407.5,848.9 1415.5,846.4" fill="none" stroke="#1e90ff" stroke-width="1"/>
<rect x="0" y="29" width="1628" height="1" fill="#000"/>
<rect x="1627" y="29" width="1" height="554" fill="#000"/>
<rect x="0" y="582" width="1628" height="1" fill="#000"/>
<rect x="0" y="584" width="1628" height="1" fill="#000"/>
<rect x="1627" y="584" width="1" height="184" fill="#000"/>
<rect x="0" y="767" width="1628" height="1" fill="#000"/>
<rect x="0" y="769" width="1628" height="1" fill="#000"/>
<rect x="1627" y="769" width="1" height="161" fill="#000"/>
<rect x="0" y="929" width="1628" height="1" fill="#000"/>
<rect x="1628" y="51" width="2" height="1" fill="#000"/>
<text x="1633" y="55" font-size="9.7" fill="#000" textLength="33" lengthAdjust="spacingAndGlyphs">109.355</text>
<rect x="1628" y="84" width="2" height="1" fill="#000"/>
<text x="1633" y="88" font-size="9.7" fill="#000" textLength="33" lengthAdjust="spacingAndGlyphs">109.080</text>
<rect x="1628" y="117" width="2" height="1" fill="#000"/>
<text x="1633" y="121" font-size="9.7" fill="#000" textLength="33" lengthAdjust="spacingAndGlyphs">108.805</text>
<rect x="1628" y="150" width="2" height="1" fill="#000"/>
<text x="1633" y="154" font-size="9.7" fill="#000" textLength="33" lengthAdjust="spacingAndGlyphs">108.530</text>
<rect x="1628" y="183" width="2" height="1" fill="#000"/>
<text x="1633" y="187" font-size="9.7" fill="#000" textLength="33" lengthAdjust="spacingAndGlyphs">108.255</text>
<rect x="1628" y="216" width="2" height="1" fill="#000"/>
<text x="1633" y="220" font-size="9.7" fill="#000" textLength="33" lengthAdjust="spacingAndGlyphs">107.980</text>
<rect x="1628" y="249" width="2" height="1" fill="#000"/>
<text x="1633" y="253" font-size="9.7" fill="#000" textLength="33" lengthAdjust="spacingAndGlyphs">107.705</text>
<rect x="1628" y="282" width="2" height="1" fill="#000"/>
<text x="1633" y="286" font-size="9.7" fill="#000" textLength="33" lengthAdjust="spacingAndGlyphs">107.430</text>
<rect x="1628" y="315" width="2" height="1" fill="#000"/>
<text x="1633" y="319" font-size="9.7" fill="#000" textLength="33" lengthAdjust="spacingAndGlyphs">107.155</text>
<rect x="1628" y="348" width="2" height="1" fill="#000"/>
<text x="1633" y="352" font-size="9.7" fill="#000" textLength="33" lengthAdjust="spacingAndGlyphs">106.880</text>
<rect x="1628" y="381" width="2" height="1" fill="#000"/>
<text x="1633" y="385" font-size="9.7" fill="#000" textLength="33" lengthAdjust="spacingAndGlyphs">106.600</text>
<rect x="1628" y="414" width="2" height="1" fill="#000"/>
<text x="1633" y="418" font-size="9.7" fill="#000" textLength="33" lengthAdjust="spacingAndGlyphs">106.325</text>
<rect x="1628" y="447" width="2" height="1" fill="#000"/>
<text x="1633" y="451" font-size="9.7" fill="#000" textLength="33" lengthAdjust="spacingAndGlyphs">106.050</text>
<rect x="1628" y="480" width="2" height="1" fill="#000"/>
<text x="1633" y="484" font-size="9.7" fill="#000" textLength="33" lengthAdjust="spacingAndGlyphs">105.775</text>
<rect x="1628" y="513" width="2" height="1" fill="#000"/>
<text x="1633" y="517" font-size="9.7" fill="#000" textLength="33" lengthAdjust="spacingAndGlyphs">105.500</text>
<rect x="1628" y="546" width="2" height="1" fill="#000"/>
<text x="1633" y="550" font-size="9.7" fill="#000" textLength="33" lengthAdjust="spacingAndGlyphs">105.225</text>
<rect x="1628" y="579" width="2" height="1" fill="#000"/>
<text x="1633" y="583" font-size="9.7" fill="#000" textLength="33" lengthAdjust="spacingAndGlyphs">104.950</text>
<rect x="1629" y="306" width="41" height="11" fill="#ff0000"/>
<text x="1633" y="315" font-size="9.7" fill="#fff" textLength="33" lengthAdjust="spacingAndGlyphs">107.183</text>
<rect x="1629" y="343" width="41" height="11" fill="#ff0000"/>
<text x="1633" y="352" font-size="9.7" fill="#fff" textLength="33" lengthAdjust="spacingAndGlyphs">106.873</text>
<rect x="1629" y="390" width="41" height="11" fill="#32cd32"/>
<text x="1633" y="399" font-size="9.7" fill="#fff" textLength="33" lengthAdjust="spacingAndGlyphs">106.480</text>
<rect x="1629" y="434" width="41" height="11" fill="#000000"/>
<text x="1633" y="443" font-size="9.7" fill="#fff" textLength="33" lengthAdjust="spacingAndGlyphs">106.116</text>
<rect x="1629" y="481" width="41" height="11" fill="#0000ff"/>
<text x="1633" y="490" font-size="9.7" fill="#fff" textLength="33" lengthAdjust="spacingAndGlyphs">105.722</text>
<rect x="1629" y="522" width="41" height="11" fill="#0000ff"/>
<text x="1633" y="531" font-size="9.7" fill="#fff" textLength="33" lengthAdjust="spacingAndGlyphs">105.380</text>
<rect x="1628" y="586" width="2" height="1" fill="#000"/>
<text x="1631" y="595" font-size="9.7" fill="#000" textLength="28" lengthAdjust="spacingAndGlyphs">0.2858</text>
<rect x="1628" y="636" width="2" height="1" fill="#000"/>
<text x="1631" y="640" font-size="9.7" fill="#000" textLength="18" lengthAdjust="spacingAndGlyphs">0.00</text>
<rect x="1628" y="766" width="2" height="1" fill="#000"/>
<text x="1631" y="764" font-size="9.7" fill="#000" textLength="31" lengthAdjust="spacingAndGlyphs">-0.7367</text>
<rect x="1628" y="771" width="2" height="1" fill="#000"/>
<text x="1631" y="780" font-size="9.7" fill="#000" textLength="14" lengthAdjust="spacingAndGlyphs">100</text>
<text x="1630" y="806" font-size="9.7" fill="#000" textLength="10" lengthAdjust="spacingAndGlyphs">80</text>
<text x="1630" y="853" font-size="9.7" fill="#000" textLength="10" lengthAdjust="spacingAndGlyphs">50</text>
<text x="1630" y="909" font-size="9.7" fill="#000" textLength="10" lengthAdjust="spacingAndGlyphs">15</text>
<rect x="1628" y="928" width="2" height="1" fill="#000"/>
<text x="1631" y="926" font-size="9.7" fill="#000" textLength="5" lengthAdjust="spacingAndGlyphs">0</text>
<text x="-2" y="942" font-size="9.7" fill="#000" textLength="43.1" lengthAdjust="spacingAndGlyphs">5 Jul 2019</text>
<rect x="63" y="930" width="1" height="3" fill="#000"/>
<text x="62" y="942" font-size="9.7" fill="#000" textLength="45.7" lengthAdjust="spacingAndGlyphs">8 Jul 16:00</text>
<rect x="127" y="930" width="1" height="3" fill="#000"/>
<text x="126" y="942" font-size="9.7" fill="#000" textLength="50.9" lengthAdjust="spacingAndGlyphs">10 Jul 00:00</text>
<rect x="191" y="930" width="1" height="3" fill="#000"/>
<text x="190" y="942" font-size="9.7" fill="#000" textLength="50.9" lengthAdjust="spacingAndGlyphs">11 Jul 08:00</text>
<rect x="255" y="930" width="1" height="3" fill="#000"/>
<text x="254" y="942" font-size="9.7" fill="#000" textLength="50.9" lengthAdjust="spacingAndGlyphs">12 Jul 16:00</text>
<rect x="319" y="930" width="1" height="3" fill="#000"/>
<text x="318" y="942" font-size="9.7" fill="#000" textLength="50.9" lengthAdjust="spacingAndGlyphs">16 Jul 00:00</text>
<rect x="383" y="930" width="1" height="3" fill="#000"/>
<text x="382" y="942" font-size="9.7" fill="#000" textLength="50.9" lengthAdjust="spacingAndGlyphs">17 Jul 08:00</text>
<rect x="447" y="930" width="1" height="3" fill="#000"/>
<text x="446" y="942" font-size="9.7" fill="#000" textLength="50.9" lengthAdjust="spacingAndGlyphs">18 Jul 16:00</text>
<rect x="511" y="930" width="1" height="3" fill="#000"/>
<text x="510" y="942" font-size="9.7" fill="#000" textLength="50.9" lengthAdjust="spacingAndGlyphs">22 Jul 00:00</text>
<rect x="575" y="930" width="1" height="3" fill="#000"/>
<text x="574" y="942" font-size="9.7" fill="#000" textLength="50.9" lengthAdjust="spacingAndGlyphs">23 Jul 08:00</text>
<rect x="639" y="930" width="1" height="3" fill="#000"/>
<text x="638" y="942" font-size="9.7" fill="#000" textLength="50.9" lengthAdjust="spacingAndGlyphs">24 Jul 16:00</text>
<rect x="703" y="930" width="1" height="3" fill="#000"/>
<text x="702" y="942" font-size="9.7" fill="#000" textLength="50.9" lengthAdjust="spacingAndGlyphs">26 Jul 00:00</text>
<rect x="767" y="930" width="1" height="3" fill="#000"/>
<text x="766" y="942" font-size="9.7" fill="#000" textLength="50.9" lengthAdjust="spacingAndGlyphs">29 Jul 08:00</text>
<rect x="831" y="930" width="1" height="3" fill="#000"/>
<text x="830" y="942" font-size="9.7" fill="#000" textLength="50.9" lengthAdjust="spacingAndGlyphs">30 Jul 16:00</text>
<rect x="895" y="930" width="1" height="3" fill="#000"/>
<text x="894" y="942" font-size="9.7" fill="#000" textLength="50.4" lengthAdjust="spacingAndGlyphs">1 Aug 00:00</text>
<rect x="959" y="930" width="1" height="3" fill="#000"/>
<text x="958" y="942" font-size="9.7" fill="#000" textLength="50.4" lengthAdjust="spacingAndGlyphs">2 Aug 08:00</text>
<rect x="1023" y="930" width="1" height="3" fill="#000"/>
<text x="1022" y="942" font-size="9.7" fill="#000" textLength="50.4" lengthAdjust="spacingAndGlyphs">5 Aug 16:00</text>
<rect x="1087" y="930" width="1" height="3" fill="#000"/>
<text x="1086" y="942" font-size="9.7" fill="#000" textLength="50.4" lengthAdjust="spacingAndGlyphs">7 Aug 00:00</text>
<rect x="1151" y="930" width="1" height="3" fill="#000"/>
<text x="1150" y="942" font-size="9.7" fill="#000" textLength="50.4" lengthAdjust="spacingAndGlyphs">8 Aug 08:00</text>
<rect x="1215" y="930" width="1" height="3" fill="#000"/>
<text x="1214" y="942" font-size="9.7" fill="#000" textLength="50.4" lengthAdjust="spacingAndGlyphs">9 Aug 16:00</text>
<rect x="1279" y="930" width="1" height="3" fill="#000"/>
<text x="1278" y="942" font-size="9.7" fill="#000" textLength="55.6" lengthAdjust="spacingAndGlyphs">13 Aug 00:00</text>
<rect x="1343" y="930" width="1" height="3" fill="#000"/>
<text x="1342" y="942" font-size="9.7" fill="#000" textLength="55.6" lengthAdjust="spacingAndGlyphs">14 Aug 08:00</text>
<rect x="1407" y="930" width="1" height="3" fill="#000"/>
<text x="1406" y="942" font-size="9.7" fill="#000" textLength="55.6" lengthAdjust="spacingAndGlyphs">15 Aug 16:00</text>
<polygon points="2,40 9,40 5.5,36" fill="#000"/>
<text x="14" y="41" font-size="9.7" fill="#000" textLength="201" lengthAdjust="spacingAndGlyphs">USDJPY-,H4&#160;&#160;106.033 106.118 105.976 106.116</text>
<text x="3" y="597" font-size="9.7" fill="#000" textLength="128" lengthAdjust="spacingAndGlyphs">MACD(12,26,9) 0.0452 0.0317</text>
<text x="3" y="782" font-size="9.7" fill="#000" textLength="68" lengthAdjust="spacingAndGlyphs">RSI(14) 52.4572</text>
<rect x="0" y="0" width="1674" height="24" fill="#f0f0f0"/>
<rect x="0" y="24" width="1674" height="1" fill="#f6f6f6"/>
<rect x="0" y="25" width="1674" height="1" fill="#a0a0a0"/>
<rect x="0" y="26" width="1674" height="1" fill="#696969"/>
<defs><pattern id="chk" width="2" height="2" patternUnits="userSpaceOnUse"><rect width="2" height="2" fill="#f4f4f4"/><rect width="1" height="1" fill="#ffffff"/><rect x="1" y="1" width="1" height="1" fill="#ffffff"/></pattern><linearGradient id="gs" x1="0" y1="0" x2="0" y2="1"><stop offset="0" stop-color="#ff5656"/><stop offset="1" stop-color="#e23535"/></linearGradient><linearGradient id="gb" x1="0" y1="0" x2="0" y2="1"><stop offset="0" stop-color="#e23333"/><stop offset="1" stop-color="#b00606"/></linearGradient><linearGradient id="gplus" x1="0" y1="0" x2="1" y2="1"><stop offset="0" stop-color="#90ff90"/><stop offset="0.5" stop-color="#10f010"/><stop offset="1" stop-color="#00b000"/></linearGradient><linearGradient id="ggold" x1="0" y1="0" x2="1" y2="1"><stop offset="0" stop-color="#fff080"/><stop offset="0.4" stop-color="#f0c818"/><stop offset="1" stop-color="#d89a08"/></linearGradient><linearGradient id="gcloud" x1="0" y1="0" x2="0" y2="1"><stop offset="0" stop-color="#ffffff"/><stop offset="1" stop-color="#b8c4d8"/></linearGradient><linearGradient id="gring" x1="0" y1="0" x2="1" y2="1"><stop offset="0" stop-color="#40a8ff"/><stop offset="0.5" stop-color="#1070e0"/><stop offset="1" stop-color="#003a98"/></linearGradient><radialGradient id="gclk" cx="0.45" cy="0.4" r="0.6"><stop offset="0" stop-color="#ffffff"/><stop offset="1" stop-color="#c8d8ec"/></radialGradient></defs>
<path d="M-1 5H7L10 8V19H-1Z" fill="#5a5a5a"/><path d="M0 6H6V9H9V18H0Z" fill="#ffffff"/><path d="M7 6L9 8H7Z" fill="#d0d0d0"/>
<rect x="0" y="7" width="3" height="2" fill="#8a8a8a"/>
<rect x="0" y="11" width="7" height="1" fill="#909090"/>
<rect x="0" y="13" width="5" height="1" fill="#909090"/>
<path d="M6 11H10V15H14V19H10V23H6V19H2V15H6Z" fill="#008000"/><path d="M7 12H9V16H13V18H9V22H7V18H3V16H7Z" fill="url(#gplus)"/>
<text x="17" y="17" font-size="12" fill="#000" textLength="36" lengthAdjust="spacingAndGlyphs" font-family="'Liberation Sans', 'Noto Sans CJK SC', 'WenQuanYi Zen Hei', sans-serif">新订单</text>
<g shape-rendering="auto"><path d="M71 6.2L80.2 12.1L80.8 15.7L72.7 20.7L65 14.8Z" fill="#a86a08"/><path d="M71.3 7.4L79 12.5L72.5 19.5L66.3 14.6Z" fill="url(#ggold)"/><path d="M66.5 15L72.5 19.3" stroke="#f8e8a8" stroke-width="1.2"/><path d="M73.5 19.4L80 15" stroke="#e8d8a0" stroke-width="1"/></g>
<g shape-rendering="auto"><path d="M95 5.2H104L106 7V16H95Z" fill="#0a80f0"/><path d="M95.5 5.8L98.5 8.5V15.5" stroke="#d8f0ff" stroke-width="1" fill="none"/><path d="M100 10.5H104.5" stroke="#e8f8ff" stroke-width="1.2"/><path d="M95 20.6C92.5 20.6 92.3 16.8 95.2 16.4C95.8 14.3 98.8 13.6 100.3 14.9C101.3 12.6 105 12.6 105.7 15.4C108.2 15.2 109.5 17.3 108.3 19.2C108.2 20.2 107.5 20.6 106.5 20.6Z" fill="url(#gcloud)" stroke="#3a5288" stroke-width="1"/></g>
<g shape-rendering="auto" fill="none"><path d="M129.5 20.5A8 8 0 0 0 137 12.7L129.5 12.7Z" fill="#bfe0bf" stroke="none"/><circle cx="129.3" cy="12.8" r="7.6" stroke="#6a8ed8" stroke-width="1.1"/><circle cx="129.3" cy="12.8" r="4.8" stroke="#8aa8e0" stroke-width="1.1"/><path d="M129.5 20.6A7.8 7.8 0 0 0 137.1 12.8" stroke="#3a9a3a" stroke-width="1.3"/><circle cx="129.3" cy="12.8" r="2" fill="#2050c8"/><path d="M129.8 12.5V21" stroke="#20a020" stroke-width="1.6"/></g>
<g shape-rendering="auto"><path d="M148.5 13L164 13L160 20.5H156Z" fill="#f4dc48" stroke="#c09818" stroke-width="0.9"/><ellipse cx="156" cy="10" rx="7.6" ry="3" fill="#68b8ec" stroke="#2878a8" stroke-width="1"/><path d="M151.8 9.5C151.8 5 160.2 5 160.2 9.5Z" fill="#80c8f0" stroke="#2878a8" stroke-width="1"/><circle cx="160.5" cy="16.6" r="4.4" fill="#e82010" stroke="#a81000" stroke-width="1"/><rect x="159" y="15.1" width="3" height="3" fill="#fff"/></g>
<text x="170" y="17" font-size="12" fill="#000" textLength="46" lengthAdjust="spacingAndGlyphs" font-family="'Liberation Sans', 'Noto Sans CJK SC', 'WenQuanYi Zen Hei', sans-serif">自动交易</text>
<rect x="224" y="0" width="1" height="25" fill="#a0a0a0"/>
<rect x="225" y="0" width="1" height="25" fill="#ffffff"/>
<rect x="228" y="3" width="4" height="1" fill="#a8a8a8"/>
<rect x="228" y="5" width="4" height="1" fill="#a8a8a8"/>
<rect x="228" y="7" width="4" height="1" fill="#a8a8a8"/>
<rect x="228" y="9" width="4" height="1" fill="#a8a8a8"/>
<rect x="228" y="11" width="4" height="1" fill="#a8a8a8"/>
<rect x="228" y="13" width="4" height="1" fill="#a8a8a8"/>
<rect x="228" y="15" width="4" height="1" fill="#a8a8a8"/>
<rect x="228" y="17" width="4" height="1" fill="#a8a8a8"/>
<rect x="228" y="19" width="4" height="1" fill="#a8a8a8"/>
<rect x="228" y="21" width="4" height="1" fill="#a8a8a8"/>
<g stroke="#505050" stroke-width="1.3" fill="none" shape-rendering="auto"><path d="M242.5 8V21M240 19.5H253"/><path d="M241 10L242.5 8L244 10M251 18L253 19.5L251 21"/></g>
<path d="M248.5 9V17M248.5 9.5H251M246 16.5H248.5" stroke="#18a018" stroke-width="1.3" fill="none"/>
<rect x="262" y="1" width="25" height="22" fill="url(#chk)"/>
<rect x="262" y="1" width="25" height="1" fill="#a0a0a0"/>
<rect x="262" y="1" width="1" height="22" fill="#a0a0a0"/>
<g stroke="#505050" stroke-width="1.3" fill="none" shape-rendering="auto"><path d="M269.5 8V21M267 19.5H280"/><path d="M268 10L269.5 8L271 10M278 18L280 19.5L278 21"/></g>
<path d="M275.5 5V17" stroke="#109010" stroke-width="1.2"/><rect x="273" y="7" width="5" height="8" fill="#3ee03e" stroke="#109010" stroke-width="1"/>
<g stroke="#505050" stroke-width="1.3" fill="none" shape-rendering="auto"><path d="M298.5 8V21M296 19.5H309"/><path d="M297 10L298.5 8L300 10M307 18L309 19.5L307 21"/></g>
<path d="M297 15.5L302 11L306 12.5L309 14" fill="none" stroke="#189018" stroke-width="1.3" shape-rendering="auto"/>
<rect x="319" y="2" width="1" height="21" fill="#a0a0a0"/>
<rect x="320" y="2" width="1" height="21" fill="#ffffff"/>
<g shape-rendering="auto"><path d="M338 15L343 20" stroke="#c8a020" stroke-width="3"/><circle cx="334" cy="11" r="5.5" fill="#d8ecfa" stroke="#3878c8" stroke-width="1.3"/><path d="M331 11H337M334 8V14" stroke="#3870a0" stroke-width="1.8"/></g>
<g shape-rendering="auto"><path d="M366 15L371 20" stroke="#c8a020" stroke-width="3"/><circle cx="362" cy="11" r="5.5" fill="#d8ecfa" stroke="#3878c8" stroke-width="1.3"/><path d="M359 11H365" stroke="#3870a0" stroke-width="1.8"/></g>
<rect x="384" y="5" width="8" height="8" fill="#2a8a00"/>
<rect x="384" y="5" width="7" height="2" fill="#48b018"/>
<rect x="385" y="8" width="6" height="4" fill="#ffffff"/>
<rect x="385" y="6" width="1" height="1" fill="#e0f0ff"/>
<rect x="392" y="5" width="8" height="8" fill="#0038c0"/>
<rect x="392" y="5" width="7" height="2" fill="#3a70e8"/>
<rect x="393" y="8" width="6" height="4" fill="#ffffff"/>
<rect x="393" y="6" width="1" height="1" fill="#e0f0ff"/>
<rect x="384" y="13" width="8" height="8" fill="#0038c0"/>
<rect x="384" y="13" width="7" height="2" fill="#3a70e8"/>
<rect x="385" y="16" width="6" height="4" fill="#ffffff"/>
<rect x="385" y="14" width="1" height="1" fill="#e0f0ff"/>
<rect x="392" y="13" width="8" height="8" fill="#2a8a00"/>
<rect x="392" y="13" width="7" height="2" fill="#48b018"/>
<rect x="393" y="16" width="6" height="4" fill="#ffffff"/>
<rect x="393" y="14" width="1" height="1" fill="#e0f0ff"/>
<rect x="409" y="2" width="1" height="21" fill="#a0a0a0"/>
<rect x="410" y="2" width="1" height="21" fill="#ffffff"/>
<rect x="414" y="1" width="25" height="22" fill="url(#chk)"/>
<rect x="414" y="1" width="25" height="1" fill="#a0a0a0"/>
<rect x="414" y="1" width="1" height="22" fill="#a0a0a0"/>
<g stroke="#505050" stroke-width="1.3" fill="none" shape-rendering="auto"><path d="M422.5 8V21M420 19.5H433"/><path d="M421 10L422.5 8L424 10M431 18L433 19.5L431 21"/></g>
<path d="M427 9L431 12.5L427 16Z" fill="#30c030" stroke="#108010" stroke-width="1" shape-rendering="auto"/>
<rect x="442" y="1" width="25" height="22" fill="url(#chk)"/>
<rect x="442" y="1" width="25" height="1" fill="#a0a0a0"/>
<rect x="442" y="1" width="1" height="22" fill="#a0a0a0"/>
<g stroke="#505050" stroke-width="1.3" fill="none" shape-rendering="auto"><path d="M450.5 8V21M448 19.5H461"/><path d="M449 10L450.5 8L452 10M459 18L461 19.5L459 21"/></g>
<path d="M456.5 7V17" stroke="#2060b0" stroke-width="1.3"/><path d="M462 12.5H458M459 10.5L457.5 12.5L459 14.5" stroke="#e05010" stroke-width="1.5" fill="none" shape-rendering="auto"/>
<rect x="471" y="2" width="1" height="21" fill="#a0a0a0"/>
<rect x="472" y="2" width="1" height="21" fill="#ffffff"/>
<path d="M481 5H489L492 8V19H481Z" fill="#6a6a6a"/><path d="M482 6H488V9H491V18H482Z" fill="#ffffff"/>
<path d="M484 9V15M484 9.5H486M484 12H485.5" stroke="#707070" stroke-width="1" fill="none"/>
<path d="M489 11H493V15H497V19H493V23H489V19H485V15H489Z" fill="#008000"/><path d="M490 12H492V16H496V18H492V22H490V18H486V16H490Z" fill="url(#gplus)"/>
<polygon points="502,12 508,12 505,15" fill="#000"/>
<g shape-rendering="auto"><circle cx="527" cy="12.9" r="6.5" fill="#f8f8f8" stroke="url(#gring)" stroke-width="2.8"/><path d="M526.3 8.6V12.6H529.8" stroke="#202020" stroke-width="1.3" fill="none"/></g>
<polygon points="541,12 547,12 544,15" fill="#000"/>
<g shape-rendering="auto"><rect x="558.5" y="6.5" width="15" height="13" fill="#ffffff" stroke="#3a70b8"/><rect x="559" y="7" width="14" height="2" fill="#6a9ad8"/><path d="M560 13L562 12.5L564 11L566 12L568 10.5L572 10" stroke="#a02010" stroke-width="1.2" fill="none"/><path d="M559 14.5H573" stroke="#3a70b8"/><path d="M560 17.5L562 17L564 16.5L566 17L568 15L570 16L572 17.5" stroke="#20a020" stroke-width="1.2" fill="none"/></g>
<polygon points="580,12 586,12 583,15" fill="#000"/>
<rect x="592" y="0" width="1" height="25" fill="#a0a0a0"/>
<rect x="593" y="0" width="1" height="25" fill="#ffffff"/>
<rect x="596" y="3" width="4" height="1" fill="#a8a8a8"/>
<rect x="596" y="5" width="4" height="1" fill="#a8a8a8"/>
<rect x="596" y="7" width="4" height="1" fill="#a8a8a8"/>
<rect x="596" y="9" width="4" height="1" fill="#a8a8a8"/>
<rect x="596" y="11" width="4" height="1" fill="#a8a8a8"/>
<rect x="596" y="13" width="4" height="1" fill="#a8a8a8"/>
<rect x="596" y="15" width="4" height="1" fill="#a8a8a8"/>
<rect x="596" y="17" width="4" height="1" fill="#a8a8a8"/>
<rect x="596" y="19" width="4" height="1" fill="#a8a8a8"/>
<rect x="596" y="21" width="4" height="1" fill="#a8a8a8"/>
<rect x="602" y="1" width="25" height="22" fill="url(#chk)"/>
<rect x="602" y="1" width="25" height="1" fill="#a0a0a0"/>
<rect x="602" y="1" width="1" height="22" fill="#a0a0a0"/>
<path d="M610.5 6L610.5 18L613.5 15L616 20.5L618 19.5L615.5 14L619.5 14Z" fill="#505050" shape-rendering="auto"/>
<path d="M642 6V12M642 15V21M635 13.5H641M644 13.5H650" stroke="#404040" stroke-width="1.2"/>
<rect x="659" y="2" width="1" height="21" fill="#a0a0a0"/>
<rect x="660" y="2" width="1" height="21" fill="#ffffff"/>
<path d="M676.5 7V20" stroke="#404040" stroke-width="1.3"/>
<path d="M699 13.5H711" stroke="#404040" stroke-width="1.3"/>
<path d="M727 20L739 8" stroke="#404040" stroke-width="1.2" shape-rendering="auto"/>
<g shape-rendering="auto" stroke="#404040" stroke-width="1" fill="none"><path d="M753 15L761 7M755 19L765 10M757 20L767 12"/></g>
<text x="763" y="22" font-size="7" fill="#303030" font-weight="bold">E</text>
<g stroke="#404040" stroke-width="1" stroke-dasharray="1 1"><path d="M782 6.5H795M782 9.5H795M782 13.5H795M782 17.5H791"/></g>
<text x="791" y="22" font-size="7" fill="#303030" font-weight="bold">F</text>
<text x="812" y="18" font-size="12" fill="#505050" font-weight="bold">A</text>
<rect x="838.5" y="7.5" width="12" height="12" fill="none" stroke="#404040" stroke-dasharray="1 1"/>
<text x="841" y="17.5" font-size="11" fill="#505050" font-weight="bold">T</text>
<g shape-rendering="auto"><path d="M866 10L869.5 7L873 10Z" fill="#505050"/><path d="M868 14L870 16L874 11" stroke="#505050" stroke-width="1.3" fill="none"/><path d="M873 16.5L876.5 20L880 16.5Z" fill="#505050"/></g>
<polygon points="886,12 892,12 889,15" fill="#000"/>
<rect x="898" y="0" width="1" height="25" fill="#a0a0a0"/>
<rect x="899" y="0" width="1" height="25" fill="#ffffff"/>
<rect x="902" y="3" width="4" height="1" fill="#a8a8a8"/>
<rect x="902" y="5" width="4" height="1" fill="#a8a8a8"/>
<rect x="902" y="7" width="4" height="1" fill="#a8a8a8"/>
<rect x="902" y="9" width="4" height="1" fill="#a8a8a8"/>
<rect x="902" y="11" width="4" height="1" fill="#a8a8a8"/>
<rect x="902" y="13" width="4" height="1" fill="#a8a8a8"/>
<rect x="902" y="15" width="4" height="1" fill="#a8a8a8"/>
<rect x="902" y="17" width="4" height="1" fill="#a8a8a8"/>
<rect x="902" y="19" width="4" height="1" fill="#a8a8a8"/>
<rect x="902" y="21" width="4" height="1" fill="#a8a8a8"/>
<rect x="1048" y="1" width="25" height="22" fill="url(#chk)"/>
<rect x="1048" y="1" width="25" height="1" fill="#a0a0a0"/>
<rect x="1048" y="1" width="1" height="22" fill="#a0a0a0"/>
<text x="913.8" y="17.3" font-size="10" fill="#404040" textLength="12.2" lengthAdjust="spacingAndGlyphs">M1</text>
<text x="941.8" y="17.3" font-size="10" fill="#404040" textLength="12.2" lengthAdjust="spacingAndGlyphs">M5</text>
<text x="967.7" y="17.3" font-size="10" fill="#404040" textLength="17.4" lengthAdjust="spacingAndGlyphs">M15</text>
<text x="995.8" y="17.3" font-size="10" fill="#404040" textLength="17.2" lengthAdjust="spacingAndGlyphs">M30</text>
<text x="1026.7" y="17.3" font-size="10" fill="#404040" textLength="11.3" lengthAdjust="spacingAndGlyphs">H1</text>
<text x="1053.5" y="17.3" font-size="10" fill="#404040" textLength="12.2" lengthAdjust="spacingAndGlyphs">H4</text>
<text x="1082.8" y="17.3" font-size="10" fill="#404040" textLength="11.2" lengthAdjust="spacingAndGlyphs">D1</text>
<text x="1110.1" y="17.3" font-size="10" fill="#404040" textLength="13.7" lengthAdjust="spacingAndGlyphs">W1</text>
<text x="1136.7" y="17.3" font-size="10" fill="#404040" textLength="14.7" lengthAdjust="spacingAndGlyphs">MN</text>
<rect x="1159" y="0" width="1" height="25" fill="#a0a0a0"/>
<rect x="1160" y="0" width="1" height="25" fill="#ffffff"/>
<g shape-rendering="auto"><circle cx="1629.5" cy="10.5" r="3.8" fill="#f4f4ff" stroke="#2a60d0" stroke-width="1.5"/><path d="M1626.5 13.5L1622.8 17.2" stroke="#2a60d0" stroke-width="2.2"/><ellipse cx="1662" cy="10" rx="6.3" ry="4.5" fill="#f4f4f4" stroke="#808080" stroke-width="0.9"/><path d="M1664 14L1665 16.5L1662 14.3" fill="#808080"/><ellipse cx="1653.5" cy="14" rx="5.2" ry="3.8" fill="#f8f8f8" stroke="#808080" stroke-width="0.9"/><path d="M1651 17.5L1650.5 19.5L1653 17.7" fill="#808080"/></g>
<rect x="2" y="47" width="219" height="66" fill="#ffffff"/>
<rect x="2" y="49" width="52" height="25" fill="#bb0000"/>
<rect x="3" y="50" width="50" height="23" fill="url(#gs)"/>
<rect x="169" y="49" width="52" height="25" fill="#bb0000"/>
<rect x="170" y="50" width="50" height="23" fill="url(#gs)"/>
<rect x="2" y="73" width="109" height="40" fill="#b80000"/>
<rect x="3" y="74" width="107" height="38" fill="url(#gb)"/>
<rect x="113" y="73" width="108" height="40" fill="#b80000"/>
<rect x="114" y="74" width="106" height="38" fill="url(#gb)"/>
<rect x="3" y="72" width="50" height="3" fill="#e23535"/>
<rect x="170" y="72" width="50" height="3" fill="#e23535"/>
<rect x="6" y="72" width="45" height="1" fill="#880000"/>
<rect x="6" y="73" width="45" height="1" fill="#ff7070"/>
<rect x="173" y="72" width="44" height="1" fill="#880000"/>
<rect x="173" y="73" width="44" height="1" fill="#ff7070"/>
<rect x="56" y="49" width="111" height="22" fill="#a8a8a8"/>
<rect x="57" y="50" width="20" height="20" fill="#e6e6e6"/>
<rect x="77" y="50" width="1" height="20" fill="#a8a8a8"/>
<rect x="78" y="50" width="67" height="20" fill="#ffffff"/>
<rect x="145" y="50" width="1" height="20" fill="#a8a8a8"/>
<rect x="146" y="50" width="20" height="20" fill="#e6e6e6"/>
<polygon points="63.5,58 69.5,58 66.5,61" fill="#000"/>
<polygon points="152.5,61 158.5,61 155.5,58" fill="#000"/>
<text x="141.5" y="63.2" font-size="11.5" fill="#000" text-anchor="end" textLength="22" lengthAdjust="spacingAndGlyphs">1.00</text>
<text x="14" y="65" font-size="12.5" fill="#fff" textLength="25.5" lengthAdjust="spacingAndGlyphs">SELL</text>
<text x="182.5" y="65" font-size="12.5" fill="#fff" textLength="23.5" lengthAdjust="spacingAndGlyphs">BUY</text>
<text x="25" y="103.3" font-size="12" fill="#fff" textLength="21.5" lengthAdjust="spacingAndGlyphs" font-weight="bold">106</text>
<text x="49" y="103.3" font-size="32" fill="#fff" textLength="33" lengthAdjust="spacingAndGlyphs">11</text>
<text x="89" y="87.5" font-size="11" fill="#fff" font-weight="bold">6</text>
<text x="135" y="103.3" font-size="12" fill="#fff" textLength="21.5" lengthAdjust="spacingAndGlyphs" font-weight="bold">106</text>
<text x="161" y="103.3" font-size="32" fill="#fff" textLength="36" lengthAdjust="spacingAndGlyphs">14</text>
<text x="200" y="87.5" font-size="11" fill="#fff" font-weight="bold">1</text>
</svg>
</body></html>
